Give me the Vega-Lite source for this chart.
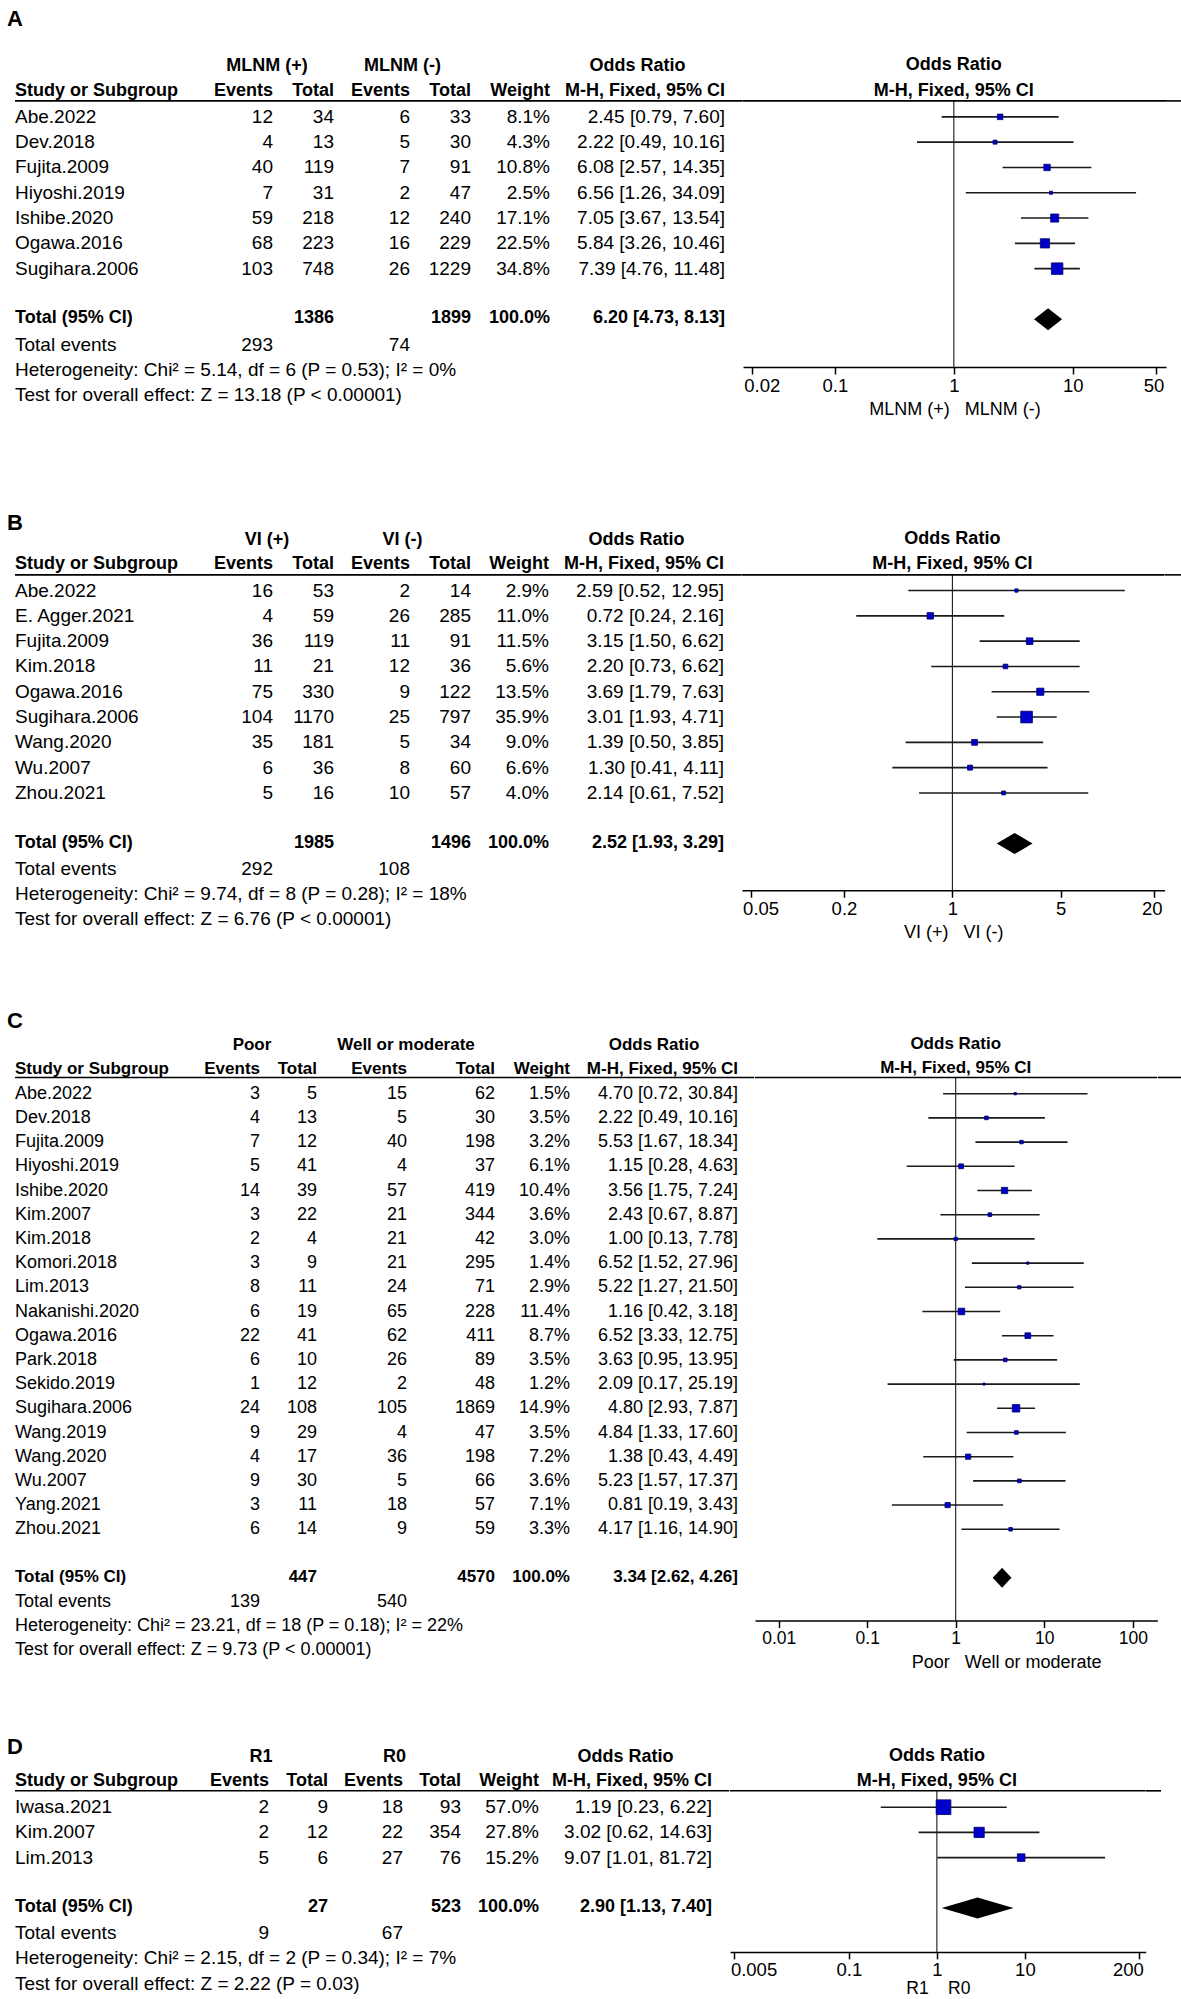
{
"$schema": "https://vega.github.io/schema/vega-lite/v6.json",
"padding": {"left": 7, "top": 3, "right": 0, "bottom": 0},
"background": "white",
"spacing": 0,
"config": {"view": {"stroke": null}, "text": {"font": "Liberation Sans", "fontSize": 19, "color": "#000"}, "axis": {"labelFont": "Liberation Sans", "titleFont": "Liberation Sans"}},
"datasets": {
"A": [
{"row":"pad0","letter":"A"},
{"row":"h1","g1":"MLNM (+)","g2":"MLNM (-)","ci":"Odds Ratio"},
{"row":"h2","label":"Study or Subgroup","e1":"Events","t1":"Total","e2":"Events","t2":"Total","wt":"Weight","ci":"M-H, Fixed, 95% CI"},
{"row":"Abe.2022","label":"Abe.2022","e1":12,"t1":34,"e2":6,"t2":33,"w":0.081,"or":2.45,"lo":0.79,"hi":7.6,"ci":"2.45 [0.79, 7.60]"},
{"row":"Dev.2018","label":"Dev.2018","e1":4,"t1":13,"e2":5,"t2":30,"w":0.043,"or":2.22,"lo":0.49,"hi":10.16,"ci":"2.22 [0.49, 10.16]"},
{"row":"Fujita.2009","label":"Fujita.2009","e1":40,"t1":119,"e2":7,"t2":91,"w":0.108,"or":6.08,"lo":2.57,"hi":14.35,"ci":"6.08 [2.57, 14.35]"},
{"row":"Hiyoshi.2019","label":"Hiyoshi.2019","e1":7,"t1":31,"e2":2,"t2":47,"w":0.025,"or":6.56,"lo":1.26,"hi":34.09,"ci":"6.56 [1.26, 34.09]"},
{"row":"Ishibe.2020","label":"Ishibe.2020","e1":59,"t1":218,"e2":12,"t2":240,"w":0.171,"or":7.05,"lo":3.67,"hi":13.54,"ci":"7.05 [3.67, 13.54]"},
{"row":"Ogawa.2016","label":"Ogawa.2016","e1":68,"t1":223,"e2":16,"t2":229,"w":0.225,"or":5.84,"lo":3.26,"hi":10.46,"ci":"5.84 [3.26, 10.46]"},
{"row":"Sugihara.2006","label":"Sugihara.2006","e1":103,"t1":748,"e2":26,"t2":1229,"w":0.348,"or":7.39,"lo":4.76,"hi":11.48,"ci":"7.39 [4.76, 11.48]"},
{"row":"total","label":"Total (95% CI)","t1":1386,"t2":1899,"w":1,"or":6.2,"lo":4.73,"hi":8.13,"ci":"6.20 [4.73, 8.13]"},
{"row":"te","label":"Total events","e1":293,"e2":74},
{"row":"het","label":"Heterogeneity: Chi² = 5.14, df = 6 (P = 0.53); I² = 0%"},
{"row":"test","label":"Test for overall effect: Z = 13.18 (P < 0.00001)"}
],
"B": [
{"row":"pad0","letter":"B"},
{"row":"h1","g1":"VI (+)","g2":"VI (-)","ci":"Odds Ratio"},
{"row":"h2","label":"Study or Subgroup","e1":"Events","t1":"Total","e2":"Events","t2":"Total","wt":"Weight","ci":"M-H, Fixed, 95% CI"},
{"row":"Abe.2022","label":"Abe.2022","e1":16,"t1":53,"e2":2,"t2":14,"w":0.029,"or":2.59,"lo":0.52,"hi":12.95,"ci":"2.59 [0.52, 12.95]"},
{"row":"E. Agger.2021","label":"E. Agger.2021","e1":4,"t1":59,"e2":26,"t2":285,"w":0.11,"or":0.72,"lo":0.24,"hi":2.16,"ci":"0.72 [0.24, 2.16]"},
{"row":"Fujita.2009","label":"Fujita.2009","e1":36,"t1":119,"e2":11,"t2":91,"w":0.115,"or":3.15,"lo":1.5,"hi":6.62,"ci":"3.15 [1.50, 6.62]"},
{"row":"Kim.2018","label":"Kim.2018","e1":11,"t1":21,"e2":12,"t2":36,"w":0.056,"or":2.2,"lo":0.73,"hi":6.62,"ci":"2.20 [0.73, 6.62]"},
{"row":"Ogawa.2016","label":"Ogawa.2016","e1":75,"t1":330,"e2":9,"t2":122,"w":0.135,"or":3.69,"lo":1.79,"hi":7.63,"ci":"3.69 [1.79, 7.63]"},
{"row":"Sugihara.2006","label":"Sugihara.2006","e1":104,"t1":1170,"e2":25,"t2":797,"w":0.359,"or":3.01,"lo":1.93,"hi":4.71,"ci":"3.01 [1.93, 4.71]"},
{"row":"Wang.2020","label":"Wang.2020","e1":35,"t1":181,"e2":5,"t2":34,"w":0.09,"or":1.39,"lo":0.5,"hi":3.85,"ci":"1.39 [0.50, 3.85]"},
{"row":"Wu.2007","label":"Wu.2007","e1":6,"t1":36,"e2":8,"t2":60,"w":0.066,"or":1.3,"lo":0.41,"hi":4.11,"ci":"1.30 [0.41, 4.11]"},
{"row":"Zhou.2021","label":"Zhou.2021","e1":5,"t1":16,"e2":10,"t2":57,"w":0.04,"or":2.14,"lo":0.61,"hi":7.52,"ci":"2.14 [0.61, 7.52]"},
{"row":"total","label":"Total (95% CI)","t1":1985,"t2":1496,"w":1,"or":2.52,"lo":1.93,"hi":3.29,"ci":"2.52 [1.93, 3.29]"},
{"row":"te","label":"Total events","e1":292,"e2":108},
{"row":"het","label":"Heterogeneity: Chi² = 9.74, df = 8 (P = 0.28); I² = 18%"},
{"row":"test","label":"Test for overall effect: Z = 6.76 (P < 0.00001)"}
],
"C": [
{"row":"pad0","letter":"C"},
{"row":"h1","g1":"Poor","g2":"Well or moderate","ci":"Odds Ratio"},
{"row":"h2","label":"Study or Subgroup","e1":"Events","t1":"Total","e2":"Events","t2":"Total","wt":"Weight","ci":"M-H, Fixed, 95% CI"},
{"row":"Abe.2022","label":"Abe.2022","e1":3,"t1":5,"e2":15,"t2":62,"w":0.015,"or":4.7,"lo":0.72,"hi":30.84,"ci":"4.70 [0.72, 30.84]"},
{"row":"Dev.2018","label":"Dev.2018","e1":4,"t1":13,"e2":5,"t2":30,"w":0.035,"or":2.22,"lo":0.49,"hi":10.16,"ci":"2.22 [0.49, 10.16]"},
{"row":"Fujita.2009","label":"Fujita.2009","e1":7,"t1":12,"e2":40,"t2":198,"w":0.032,"or":5.53,"lo":1.67,"hi":18.34,"ci":"5.53 [1.67, 18.34]"},
{"row":"Hiyoshi.2019","label":"Hiyoshi.2019","e1":5,"t1":41,"e2":4,"t2":37,"w":0.061,"or":1.15,"lo":0.28,"hi":4.63,"ci":"1.15 [0.28, 4.63]"},
{"row":"Ishibe.2020","label":"Ishibe.2020","e1":14,"t1":39,"e2":57,"t2":419,"w":0.104,"or":3.56,"lo":1.75,"hi":7.24,"ci":"3.56 [1.75, 7.24]"},
{"row":"Kim.2007","label":"Kim.2007","e1":3,"t1":22,"e2":21,"t2":344,"w":0.036,"or":2.43,"lo":0.67,"hi":8.87,"ci":"2.43 [0.67, 8.87]"},
{"row":"Kim.2018","label":"Kim.2018","e1":2,"t1":4,"e2":21,"t2":42,"w":0.03,"or":1.0,"lo":0.13,"hi":7.78,"ci":"1.00 [0.13, 7.78]"},
{"row":"Komori.2018","label":"Komori.2018","e1":3,"t1":9,"e2":21,"t2":295,"w":0.014,"or":6.52,"lo":1.52,"hi":27.96,"ci":"6.52 [1.52, 27.96]"},
{"row":"Lim.2013","label":"Lim.2013","e1":8,"t1":11,"e2":24,"t2":71,"w":0.029,"or":5.22,"lo":1.27,"hi":21.5,"ci":"5.22 [1.27, 21.50]"},
{"row":"Nakanishi.2020","label":"Nakanishi.2020","e1":6,"t1":19,"e2":65,"t2":228,"w":0.114,"or":1.16,"lo":0.42,"hi":3.18,"ci":"1.16 [0.42, 3.18]"},
{"row":"Ogawa.2016","label":"Ogawa.2016","e1":22,"t1":41,"e2":62,"t2":411,"w":0.087,"or":6.52,"lo":3.33,"hi":12.75,"ci":"6.52 [3.33, 12.75]"},
{"row":"Park.2018","label":"Park.2018","e1":6,"t1":10,"e2":26,"t2":89,"w":0.035,"or":3.63,"lo":0.95,"hi":13.95,"ci":"3.63 [0.95, 13.95]"},
{"row":"Sekido.2019","label":"Sekido.2019","e1":1,"t1":12,"e2":2,"t2":48,"w":0.012,"or":2.09,"lo":0.17,"hi":25.19,"ci":"2.09 [0.17, 25.19]"},
{"row":"Sugihara.2006","label":"Sugihara.2006","e1":24,"t1":108,"e2":105,"t2":1869,"w":0.149,"or":4.8,"lo":2.93,"hi":7.87,"ci":"4.80 [2.93, 7.87]"},
{"row":"Wang.2019","label":"Wang.2019","e1":9,"t1":29,"e2":4,"t2":47,"w":0.035,"or":4.84,"lo":1.33,"hi":17.6,"ci":"4.84 [1.33, 17.60]"},
{"row":"Wang.2020","label":"Wang.2020","e1":4,"t1":17,"e2":36,"t2":198,"w":0.072,"or":1.38,"lo":0.43,"hi":4.49,"ci":"1.38 [0.43, 4.49]"},
{"row":"Wu.2007","label":"Wu.2007","e1":9,"t1":30,"e2":5,"t2":66,"w":0.036,"or":5.23,"lo":1.57,"hi":17.37,"ci":"5.23 [1.57, 17.37]"},
{"row":"Yang.2021","label":"Yang.2021","e1":3,"t1":11,"e2":18,"t2":57,"w":0.071,"or":0.81,"lo":0.19,"hi":3.43,"ci":"0.81 [0.19, 3.43]"},
{"row":"Zhou.2021","label":"Zhou.2021","e1":6,"t1":14,"e2":9,"t2":59,"w":0.033,"or":4.17,"lo":1.16,"hi":14.9,"ci":"4.17 [1.16, 14.90]"},
{"row":"total","label":"Total (95% CI)","t1":447,"t2":4570,"w":1,"or":3.34,"lo":2.62,"hi":4.26,"ci":"3.34 [2.62, 4.26]"},
{"row":"te","label":"Total events","e1":139,"e2":540},
{"row":"het","label":"Heterogeneity: Chi² = 23.21, df = 18 (P = 0.18); I² = 22%"},
{"row":"test","label":"Test for overall effect: Z = 9.73 (P < 0.00001)"}
],
"D": [
{"row":"pad0","letter":"D"},
{"row":"h1","g1":"R1","g2":"R0","ci":"Odds Ratio"},
{"row":"h2","label":"Study or Subgroup","e1":"Events","t1":"Total","e2":"Events","t2":"Total","wt":"Weight","ci":"M-H, Fixed, 95% CI"},
{"row":"Iwasa.2021","label":"Iwasa.2021","e1":2,"t1":9,"e2":18,"t2":93,"w":0.57,"or":1.19,"lo":0.23,"hi":6.22,"ci":"1.19 [0.23, 6.22]"},
{"row":"Kim.2007","label":"Kim.2007","e1":2,"t1":12,"e2":22,"t2":354,"w":0.278,"or":3.02,"lo":0.62,"hi":14.63,"ci":"3.02 [0.62, 14.63]"},
{"row":"Lim.2013","label":"Lim.2013","e1":5,"t1":6,"e2":27,"t2":76,"w":0.152,"or":9.07,"lo":1.01,"hi":81.72,"ci":"9.07 [1.01, 81.72]"},
{"row":"total","label":"Total (95% CI)","t1":27,"t2":523,"w":1,"or":2.9,"lo":1.13,"hi":7.4,"ci":"2.90 [1.13, 7.40]"},
{"row":"te","label":"Total events","e1":9,"e2":67},
{"row":"het","label":"Heterogeneity: Chi² = 2.15, df = 2 (P = 0.34); I² = 7%"},
{"row":"test","label":"Test for overall effect: Z = 2.22 (P = 0.03)"}
]
},
"vconcat": [
{"hconcat": [
{"width":185,"height":498.05,"data":{"name":"A"},"layer":[
 {"transform":[{"filter":"datum.row == 'h2'"}],"mark":{"type":"rule","color":"#000","strokeWidth":1.6},"encoding":{"y":{"field":"row","type":"nominal","bandPosition":0.87,"scale":{"type":"band","domain":["pad0","pad1","h1","h2","Abe.2022","Dev.2018","Fujita.2009","Hiyoshi.2019","Ishibe.2020","Ogawa.2016","Sugihara.2006","blank","total","te","het","test","x1","x2"],"paddingInner":0,"paddingOuter":0.843,"align":0},"axis":null}}},
 {"transform":[{"filter":"isValid(datum.label) && datum.row != 'h2' && datum.row != 'total'"}],"mark":{"type":"text","align":"left"},"encoding":{"x":{"datum":"label","type":"nominal","bandPosition":0,"scale":{"type":"band","paddingInner":0,"paddingOuter":0},"axis":null},"y":{"field":"row","type":"nominal","scale":{"type":"band","domain":["pad0","pad1","h1","h2","Abe.2022","Dev.2018","Fujita.2009","Hiyoshi.2019","Ishibe.2020","Ogawa.2016","Sugihara.2006","blank","total","te","het","test","x1","x2"],"paddingInner":0,"paddingOuter":0.843,"align":0},"axis":null},"text":{"field":"label","type":"nominal"}}},
 {"transform":[{"filter":"datum.row == 'h2' || datum.row == 'total'"}],"mark":{"type":"text","align":"left","fontWeight":"bold","fontSize":18,"dy":-1},"encoding":{"x":{"datum":"label","type":"nominal","bandPosition":0,"scale":{"type":"band","paddingInner":0,"paddingOuter":0},"axis":null},"y":{"field":"row","type":"nominal","scale":{"type":"band","domain":["pad0","pad1","h1","h2","Abe.2022","Dev.2018","Fujita.2009","Hiyoshi.2019","Ishibe.2020","Ogawa.2016","Sugihara.2006","blank","total","te","het","test","x1","x2"],"paddingInner":0,"paddingOuter":0.843,"align":0},"axis":null},"text":{"field":"label","type":"nominal"}}},
 {"transform":[{"filter":"isValid(datum.letter)"}],"mark":{"type":"text","align":"left","fontWeight":"bold","fontSize":22,"dx":-8,"dy":3},"encoding":{"x":{"datum":"label","type":"nominal","bandPosition":0,"scale":{"type":"band","paddingInner":0,"paddingOuter":0},"axis":null},"y":{"field":"row","type":"nominal","scale":{"type":"band","domain":["pad0","pad1","h1","h2","Abe.2022","Dev.2018","Fujita.2009","Hiyoshi.2019","Ishibe.2020","Ogawa.2016","Sugihara.2006","blank","total","te","het","test","x1","x2"],"paddingInner":0,"paddingOuter":0.843,"align":0},"axis":null},"text":{"field":"letter","type":"nominal"}}}
]},
{"width":134,"height":498.05,"data":{"name":"A"},"layer":[
 {"transform":[{"filter":"datum.row == 'h2'"}],"mark":{"type":"rule","color":"#000","strokeWidth":1.6},"encoding":{"y":{"field":"row","type":"nominal","bandPosition":0.87,"scale":{"type":"band","domain":["pad0","pad1","h1","h2","Abe.2022","Dev.2018","Fujita.2009","Hiyoshi.2019","Ishibe.2020","Ogawa.2016","Sugihara.2006","blank","total","te","het","test","x1","x2"],"paddingInner":0,"paddingOuter":0.843,"align":0},"axis":null}}},
 {"transform":[{"fold":["e1","t1"],"as":["key","value"]},{"filter":"isValid(datum.value) && datum.row != 'h2' && datum.row != 'total'"}],"mark":{"type":"text","align":"right"},"encoding":{"x":{"field":"key","type":"nominal","bandPosition":1,"scale":{"type":"band","domain":["e1","t1"],"paddingInner":0,"paddingOuter":0.0984,"align":1},"axis":null},"y":{"field":"row","type":"nominal","scale":{"type":"band","domain":["pad0","pad1","h1","h2","Abe.2022","Dev.2018","Fujita.2009","Hiyoshi.2019","Ishibe.2020","Ogawa.2016","Sugihara.2006","blank","total","te","het","test","x1","x2"],"paddingInner":0,"paddingOuter":0.843,"align":0},"axis":null},"text":{"field":"value","type":"nominal"}}},
 {"transform":[{"fold":["e1","t1"],"as":["key","value"]},{"filter":"isValid(datum.value) && (datum.row == 'h2' || datum.row == 'total')"}],"mark":{"type":"text","align":"right","fontWeight":"bold","fontSize":18,"dy":-1},"encoding":{"x":{"field":"key","type":"nominal","bandPosition":1,"scale":{"type":"band","domain":["e1","t1"],"paddingInner":0,"paddingOuter":0.0984,"align":1},"axis":null},"y":{"field":"row","type":"nominal","scale":{"type":"band","domain":["pad0","pad1","h1","h2","Abe.2022","Dev.2018","Fujita.2009","Hiyoshi.2019","Ishibe.2020","Ogawa.2016","Sugihara.2006","blank","total","te","het","test","x1","x2"],"paddingInner":0,"paddingOuter":0.843,"align":0},"axis":null},"text":{"field":"value","type":"nominal"}}},
 {"transform":[{"filter":"isValid(datum.g1)"}],"mark":{"type":"text","fontWeight":"bold","fontSize":18},"encoding":{"y":{"field":"row","type":"nominal","scale":{"type":"band","domain":["pad0","pad1","h1","h2","Abe.2022","Dev.2018","Fujita.2009","Hiyoshi.2019","Ishibe.2020","Ogawa.2016","Sugihara.2006","blank","total","te","het","test","x1","x2"],"paddingInner":0,"paddingOuter":0.843,"align":0},"axis":null},"text":{"field":"g1","type":"nominal"}}}
]},
{"width":137,"height":498.05,"data":{"name":"A"},"layer":[
 {"transform":[{"filter":"datum.row == 'h2'"}],"mark":{"type":"rule","color":"#000","strokeWidth":1.6},"encoding":{"y":{"field":"row","type":"nominal","bandPosition":0.87,"scale":{"type":"band","domain":["pad0","pad1","h1","h2","Abe.2022","Dev.2018","Fujita.2009","Hiyoshi.2019","Ishibe.2020","Ogawa.2016","Sugihara.2006","blank","total","te","het","test","x1","x2"],"paddingInner":0,"paddingOuter":0.843,"align":0},"axis":null}}},
 {"transform":[{"fold":["e2","t2"],"as":["key","value"]},{"filter":"isValid(datum.value) && datum.row != 'h2' && datum.row != 'total'"}],"mark":{"type":"text","align":"right"},"encoding":{"x":{"field":"key","type":"nominal","bandPosition":1,"scale":{"type":"band","domain":["e2","t2"],"paddingInner":0,"paddingOuter":0.123,"align":1},"axis":null},"y":{"field":"row","type":"nominal","scale":{"type":"band","domain":["pad0","pad1","h1","h2","Abe.2022","Dev.2018","Fujita.2009","Hiyoshi.2019","Ishibe.2020","Ogawa.2016","Sugihara.2006","blank","total","te","het","test","x1","x2"],"paddingInner":0,"paddingOuter":0.843,"align":0},"axis":null},"text":{"field":"value","type":"nominal"}}},
 {"transform":[{"fold":["e2","t2"],"as":["key","value"]},{"filter":"isValid(datum.value) && (datum.row == 'h2' || datum.row == 'total')"}],"mark":{"type":"text","align":"right","fontWeight":"bold","fontSize":18,"dy":-1},"encoding":{"x":{"field":"key","type":"nominal","bandPosition":1,"scale":{"type":"band","domain":["e2","t2"],"paddingInner":0,"paddingOuter":0.123,"align":1},"axis":null},"y":{"field":"row","type":"nominal","scale":{"type":"band","domain":["pad0","pad1","h1","h2","Abe.2022","Dev.2018","Fujita.2009","Hiyoshi.2019","Ishibe.2020","Ogawa.2016","Sugihara.2006","blank","total","te","het","test","x1","x2"],"paddingInner":0,"paddingOuter":0.843,"align":0},"axis":null},"text":{"field":"value","type":"nominal"}}},
 {"transform":[{"filter":"isValid(datum.g2)"}],"mark":{"type":"text","fontWeight":"bold","fontSize":18},"encoding":{"y":{"field":"row","type":"nominal","scale":{"type":"band","domain":["pad0","pad1","h1","h2","Abe.2022","Dev.2018","Fujita.2009","Hiyoshi.2019","Ishibe.2020","Ogawa.2016","Sugihara.2006","blank","total","te","het","test","x1","x2"],"paddingInner":0,"paddingOuter":0.843,"align":0},"axis":null},"text":{"field":"g2","type":"nominal"}}}
]},
{"width":79,"height":498.05,"data":{"name":"A"},"layer":[
 {"transform":[{"filter":"datum.row == 'h2'"}],"mark":{"type":"rule","color":"#000","strokeWidth":1.6},"encoding":{"y":{"field":"row","type":"nominal","bandPosition":0.87,"scale":{"type":"band","domain":["pad0","pad1","h1","h2","Abe.2022","Dev.2018","Fujita.2009","Hiyoshi.2019","Ishibe.2020","Ogawa.2016","Sugihara.2006","blank","total","te","het","test","x1","x2"],"paddingInner":0,"paddingOuter":0.843,"align":0},"axis":null}}},
 {"transform":[{"filter":"isValid(datum.w) && datum.row != 'total'"}],"mark":{"type":"text","align":"right"},"encoding":{"x":{"datum":"w","type":"nominal","bandPosition":1,"scale":{"type":"band","paddingInner":0,"paddingOuter":0},"axis":null},"y":{"field":"row","type":"nominal","scale":{"type":"band","domain":["pad0","pad1","h1","h2","Abe.2022","Dev.2018","Fujita.2009","Hiyoshi.2019","Ishibe.2020","Ogawa.2016","Sugihara.2006","blank","total","te","het","test","x1","x2"],"paddingInner":0,"paddingOuter":0.843,"align":0},"axis":null},"text":{"field":"w","type":"quantitative","format":".1%"}}},
 {"transform":[{"filter":"datum.row == 'total'"}],"mark":{"type":"text","align":"right","fontWeight":"bold","fontSize":18,"dy":-1},"encoding":{"x":{"datum":"w","type":"nominal","bandPosition":1,"scale":{"type":"band","paddingInner":0,"paddingOuter":0},"axis":null},"y":{"field":"row","type":"nominal","scale":{"type":"band","domain":["pad0","pad1","h1","h2","Abe.2022","Dev.2018","Fujita.2009","Hiyoshi.2019","Ishibe.2020","Ogawa.2016","Sugihara.2006","blank","total","te","het","test","x1","x2"],"paddingInner":0,"paddingOuter":0.843,"align":0},"axis":null},"text":{"field":"w","type":"quantitative","format":".1%"}}},
 {"transform":[{"filter":"isValid(datum.wt)"}],"mark":{"type":"text","align":"right","fontWeight":"bold","fontSize":18,"dy":-1},"encoding":{"x":{"datum":"w","type":"nominal","bandPosition":1,"scale":{"type":"band","paddingInner":0,"paddingOuter":0},"axis":null},"y":{"field":"row","type":"nominal","scale":{"type":"band","domain":["pad0","pad1","h1","h2","Abe.2022","Dev.2018","Fujita.2009","Hiyoshi.2019","Ishibe.2020","Ogawa.2016","Sugihara.2006","blank","total","te","het","test","x1","x2"],"paddingInner":0,"paddingOuter":0.843,"align":0},"axis":null},"text":{"field":"wt","type":"nominal"}}}
]},
{"width":192.7,"height":498.05,"data":{"name":"A"},"layer":[
 {"transform":[{"filter":"datum.row == 'h2'"}],"mark":{"type":"rule","color":"#000","strokeWidth":1.6},"encoding":{"y":{"field":"row","type":"nominal","bandPosition":0.87,"scale":{"type":"band","domain":["pad0","pad1","h1","h2","Abe.2022","Dev.2018","Fujita.2009","Hiyoshi.2019","Ishibe.2020","Ogawa.2016","Sugihara.2006","blank","total","te","het","test","x1","x2"],"paddingInner":0,"paddingOuter":0.843,"align":0},"axis":null}}},
 {"transform":[{"filter":"isValid(datum.ci) && datum.row != 'h1' && datum.row != 'h2' && datum.row != 'total'"}],"mark":{"type":"text","align":"right"},"encoding":{"x":{"datum":"ci","type":"nominal","bandPosition":1,"scale":{"type":"band","paddingInner":0,"paddingOuter":0.0506,"align":0},"axis":null},"y":{"field":"row","type":"nominal","scale":{"type":"band","domain":["pad0","pad1","h1","h2","Abe.2022","Dev.2018","Fujita.2009","Hiyoshi.2019","Ishibe.2020","Ogawa.2016","Sugihara.2006","blank","total","te","het","test","x1","x2"],"paddingInner":0,"paddingOuter":0.843,"align":0},"axis":null},"text":{"field":"ci","type":"nominal"}}},
 {"transform":[{"filter":"datum.row == 'h2' || datum.row == 'total'"}],"mark":{"type":"text","align":"right","fontWeight":"bold","fontSize":18,"dy":-1},"encoding":{"x":{"datum":"ci","type":"nominal","bandPosition":1,"scale":{"type":"band","paddingInner":0,"paddingOuter":0.0506,"align":0},"axis":null},"y":{"field":"row","type":"nominal","scale":{"type":"band","domain":["pad0","pad1","h1","h2","Abe.2022","Dev.2018","Fujita.2009","Hiyoshi.2019","Ishibe.2020","Ogawa.2016","Sugihara.2006","blank","total","te","het","test","x1","x2"],"paddingInner":0,"paddingOuter":0.843,"align":0},"axis":null},"text":{"field":"ci","type":"nominal"}}},
 {"transform":[{"filter":"datum.row == 'h1'"}],"mark":{"type":"text","fontWeight":"bold","fontSize":18},"encoding":{"x":{"datum":"ci","type":"nominal","bandPosition":0.5,"scale":{"type":"band","paddingInner":0,"paddingOuter":0.0506,"align":0},"axis":null},"y":{"field":"row","type":"nominal","scale":{"type":"band","domain":["pad0","pad1","h1","h2","Abe.2022","Dev.2018","Fujita.2009","Hiyoshi.2019","Ishibe.2020","Ogawa.2016","Sugihara.2006","blank","total","te","het","test","x1","x2"],"paddingInner":0,"paddingOuter":0.843,"align":0},"axis":null},"text":{"field":"ci","type":"nominal"}}}
]},
{"width":423,"height":364,"data":{"name":"A"},"layer":[
 {"transform":[{"filter":"datum.row == 'h2'"}],"mark":{"type":"rule","color":"#000","strokeWidth":1.6},"encoding":{"y":{"field":"row","type":"nominal","bandPosition":0.87,"scale":{"type":"band","domain":["pad0","pad1","h1","h2","Abe.2022","Dev.2018","Fujita.2009","Hiyoshi.2019","Ishibe.2020","Ogawa.2016","Sugihara.2006","blank","total"],"paddingInner":0,"paddingOuter":0.6937,"align":0},"axis":null}}},
 {"transform":[{"filter":"datum.row == 'h2'"}],"mark":{"type":"rule","color":"#000","strokeWidth":1},"encoding":{"x":{"datum":1,"type":"quantitative","scale":{"type":"log","domain":[0.016855,60.85],"nice":false},"axis":{"values":[0.02,0.1,1,10,50],"format":"~g","labelFlush":15,"labelFlushOffset":8,"title":"MLNM (+)\u00a0\u00a0\u00a0MLNM (-)","tickSize":7,"tickWidth":1.5,"tickColor":"#000","domainColor":"#000","domainWidth":1.5,"labelColor":"#000","labelFontSize":18.5,"labelPadding":2,"titleColor":"#000","titleFontSize":18,"titleFontWeight":"normal","titlePadding":6,"grid":false,"encode":{"ticks":{"y":{"value":-7}}}}},"y":{"field":"row","type":"nominal","bandPosition":0.87,"scale":{"type":"band","domain":["pad0","pad1","h1","h2","Abe.2022","Dev.2018","Fujita.2009","Hiyoshi.2019","Ishibe.2020","Ogawa.2016","Sugihara.2006","blank","total"],"paddingInner":0,"paddingOuter":0.6937,"align":0},"axis":null},"y2":{"value":"height"}}},
 {"transform":[{"filter":"isValid(datum.lo) && datum.row != 'total'"}],"mark":{"type":"rule","color":"#1a1a1a","strokeWidth":1.6},"encoding":{"x":{"field":"lo","type":"quantitative","scale":{"type":"log","domain":[0.016855,60.85],"nice":false},"axis":{"values":[0.02,0.1,1,10,50],"format":"~g","labelFlush":15,"labelFlushOffset":8,"title":"MLNM (+)\u00a0\u00a0\u00a0MLNM (-)","tickSize":7,"tickWidth":1.5,"tickColor":"#000","domainColor":"#000","domainWidth":1.5,"labelColor":"#000","labelFontSize":18.5,"labelPadding":2,"titleColor":"#000","titleFontSize":18,"titleFontWeight":"normal","titlePadding":6,"grid":false,"encode":{"ticks":{"y":{"value":-7}}}}},"x2":{"field":"hi"},"y":{"field":"row","type":"nominal","scale":{"type":"band","domain":["pad0","pad1","h1","h2","Abe.2022","Dev.2018","Fujita.2009","Hiyoshi.2019","Ishibe.2020","Ogawa.2016","Sugihara.2006","blank","total"],"paddingInner":0,"paddingOuter":0.6937,"align":0},"axis":null}}},
 {"transform":[{"filter":"isValid(datum.lo) && datum.row != 'total'"}],"mark":{"type":"point","shape":"square","filled":true,"fill":"#0000cc","stroke":"#000066","strokeWidth":0.8,"opacity":1},"encoding":{"x":{"field":"or","type":"quantitative","scale":{"type":"log","domain":[0.016855,60.85],"nice":false},"axis":{"values":[0.02,0.1,1,10,50],"format":"~g","labelFlush":15,"labelFlushOffset":8,"title":"MLNM (+)\u00a0\u00a0\u00a0MLNM (-)","tickSize":7,"tickWidth":1.5,"tickColor":"#000","domainColor":"#000","domainWidth":1.5,"labelColor":"#000","labelFontSize":18.5,"labelPadding":2,"titleColor":"#000","titleFontSize":18,"titleFontWeight":"normal","titlePadding":6,"grid":false,"encode":{"ticks":{"y":{"value":-7}}}}},"y":{"field":"row","type":"nominal","scale":{"type":"band","domain":["pad0","pad1","h1","h2","Abe.2022","Dev.2018","Fujita.2009","Hiyoshi.2019","Ishibe.2020","Ogawa.2016","Sugihara.2006","blank","total"],"paddingInner":0,"paddingOuter":0.6937,"align":0},"axis":null},"size":{"field":"w","type":"quantitative","scale":{"domain":[0,1],"range":[0,380]},"legend":null}}},
 {"transform":[{"filter":"datum.row == 'total'"}],"mark":{"type":"point","shape":"M-1,0L0,-0.786L1,0L0,0.786Z","filled":true,"fill":"#000","strokeWidth":0,"size":784,"opacity":1},"encoding":{"x":{"field":"or","type":"quantitative","scale":{"type":"log","domain":[0.016855,60.85],"nice":false},"axis":{"values":[0.02,0.1,1,10,50],"format":"~g","labelFlush":15,"labelFlushOffset":8,"title":"MLNM (+)\u00a0\u00a0\u00a0MLNM (-)","tickSize":7,"tickWidth":1.5,"tickColor":"#000","domainColor":"#000","domainWidth":1.5,"labelColor":"#000","labelFontSize":18.5,"labelPadding":2,"titleColor":"#000","titleFontSize":18,"titleFontWeight":"normal","titlePadding":6,"grid":false,"encode":{"ticks":{"y":{"value":-7}}}}},"y":{"field":"row","type":"nominal","scale":{"type":"band","domain":["pad0","pad1","h1","h2","Abe.2022","Dev.2018","Fujita.2009","Hiyoshi.2019","Ishibe.2020","Ogawa.2016","Sugihara.2006","blank","total"],"paddingInner":0,"paddingOuter":0.6937,"align":0},"axis":null}}},
 {"transform":[{"filter":"datum.row == 'h1' || datum.row == 'h2'"}],"mark":{"type":"text","fontWeight":"bold","fontSize":18,"dy":-1},"encoding":{"x":{"datum":1,"type":"quantitative","scale":{"type":"log","domain":[0.016855,60.85],"nice":false},"axis":{"values":[0.02,0.1,1,10,50],"format":"~g","labelFlush":15,"labelFlushOffset":8,"title":"MLNM (+)\u00a0\u00a0\u00a0MLNM (-)","tickSize":7,"tickWidth":1.5,"tickColor":"#000","domainColor":"#000","domainWidth":1.5,"labelColor":"#000","labelFontSize":18.5,"labelPadding":2,"titleColor":"#000","titleFontSize":18,"titleFontWeight":"normal","titlePadding":6,"grid":false,"encode":{"ticks":{"y":{"value":-7}}}}},"y":{"field":"row","type":"nominal","scale":{"type":"band","domain":["pad0","pad1","h1","h2","Abe.2022","Dev.2018","Fujita.2009","Hiyoshi.2019","Ishibe.2020","Ogawa.2016","Sugihara.2006","blank","total"],"paddingInner":0,"paddingOuter":0.6937,"align":0},"axis":null},"text":{"field":"ci","type":"nominal"}}}
]},
{"width":15.3,"height":364,"data":{"name":"A"},"transform":[{"filter":"datum.row == 'h2'"}],"mark":{"type":"rule","color":"#000","strokeWidth":1.6},"encoding":{"y":{"field":"row","type":"nominal","bandPosition":0.87,"scale":{"type":"band","domain":["pad0","pad1","h1","h2","Abe.2022","Dev.2018","Fujita.2009","Hiyoshi.2019","Ishibe.2020","Ogawa.2016","Sugihara.2006","blank","total"],"paddingInner":0,"paddingOuter":0.6937,"align":0},"axis":null}}}
], "spacing": 0, "bounds": "flush"},

{"hconcat": [
{"width":185,"height":506.75,"data":{"name":"B"},"layer":[
 {"transform":[{"filter":"datum.row == 'h2'"}],"mark":{"type":"rule","color":"#000","strokeWidth":1.6},"encoding":{"y":{"field":"row","type":"nominal","bandPosition":0.88,"scale":{"type":"band","domain":["pad0","h1","h2","Abe.2022","E. Agger.2021","Fujita.2009","Kim.2018","Ogawa.2016","Sugihara.2006","Wang.2020","Wu.2007","Zhou.2021","blank","total","te","het","test","x1","x2"],"paddingInner":0,"paddingOuter":0.5148,"align":0},"axis":null}}},
 {"transform":[{"filter":"isValid(datum.label) && datum.row != 'h2' && datum.row != 'total'"}],"mark":{"type":"text","align":"left"},"encoding":{"x":{"datum":"label","type":"nominal","bandPosition":0,"scale":{"type":"band","paddingInner":0,"paddingOuter":0},"axis":null},"y":{"field":"row","type":"nominal","scale":{"type":"band","domain":["pad0","h1","h2","Abe.2022","E. Agger.2021","Fujita.2009","Kim.2018","Ogawa.2016","Sugihara.2006","Wang.2020","Wu.2007","Zhou.2021","blank","total","te","het","test","x1","x2"],"paddingInner":0,"paddingOuter":0.5148,"align":0},"axis":null},"text":{"field":"label","type":"nominal"}}},
 {"transform":[{"filter":"datum.row == 'h2' || datum.row == 'total'"}],"mark":{"type":"text","align":"left","fontWeight":"bold","fontSize":18,"dy":-1},"encoding":{"x":{"datum":"label","type":"nominal","bandPosition":0,"scale":{"type":"band","paddingInner":0,"paddingOuter":0},"axis":null},"y":{"field":"row","type":"nominal","scale":{"type":"band","domain":["pad0","h1","h2","Abe.2022","E. Agger.2021","Fujita.2009","Kim.2018","Ogawa.2016","Sugihara.2006","Wang.2020","Wu.2007","Zhou.2021","blank","total","te","het","test","x1","x2"],"paddingInner":0,"paddingOuter":0.5148,"align":0},"axis":null},"text":{"field":"label","type":"nominal"}}},
 {"transform":[{"filter":"isValid(datum.letter)"}],"mark":{"type":"text","align":"left","fontWeight":"bold","fontSize":22,"dx":-8,"dy":8},"encoding":{"x":{"datum":"label","type":"nominal","bandPosition":0,"scale":{"type":"band","paddingInner":0,"paddingOuter":0},"axis":null},"y":{"field":"row","type":"nominal","scale":{"type":"band","domain":["pad0","h1","h2","Abe.2022","E. Agger.2021","Fujita.2009","Kim.2018","Ogawa.2016","Sugihara.2006","Wang.2020","Wu.2007","Zhou.2021","blank","total","te","het","test","x1","x2"],"paddingInner":0,"paddingOuter":0.5148,"align":0},"axis":null},"text":{"field":"letter","type":"nominal"}}}
]},
{"width":134,"height":506.75,"data":{"name":"B"},"layer":[
 {"transform":[{"filter":"datum.row == 'h2'"}],"mark":{"type":"rule","color":"#000","strokeWidth":1.6},"encoding":{"y":{"field":"row","type":"nominal","bandPosition":0.88,"scale":{"type":"band","domain":["pad0","h1","h2","Abe.2022","E. Agger.2021","Fujita.2009","Kim.2018","Ogawa.2016","Sugihara.2006","Wang.2020","Wu.2007","Zhou.2021","blank","total","te","het","test","x1","x2"],"paddingInner":0,"paddingOuter":0.5148,"align":0},"axis":null}}},
 {"transform":[{"fold":["e1","t1"],"as":["key","value"]},{"filter":"isValid(datum.value) && datum.row != 'h2' && datum.row != 'total'"}],"mark":{"type":"text","align":"right"},"encoding":{"x":{"field":"key","type":"nominal","bandPosition":1,"scale":{"type":"band","domain":["e1","t1"],"paddingInner":0,"paddingOuter":0.0984,"align":1},"axis":null},"y":{"field":"row","type":"nominal","scale":{"type":"band","domain":["pad0","h1","h2","Abe.2022","E. Agger.2021","Fujita.2009","Kim.2018","Ogawa.2016","Sugihara.2006","Wang.2020","Wu.2007","Zhou.2021","blank","total","te","het","test","x1","x2"],"paddingInner":0,"paddingOuter":0.5148,"align":0},"axis":null},"text":{"field":"value","type":"nominal"}}},
 {"transform":[{"fold":["e1","t1"],"as":["key","value"]},{"filter":"isValid(datum.value) && (datum.row == 'h2' || datum.row == 'total')"}],"mark":{"type":"text","align":"right","fontWeight":"bold","fontSize":18,"dy":-1},"encoding":{"x":{"field":"key","type":"nominal","bandPosition":1,"scale":{"type":"band","domain":["e1","t1"],"paddingInner":0,"paddingOuter":0.0984,"align":1},"axis":null},"y":{"field":"row","type":"nominal","scale":{"type":"band","domain":["pad0","h1","h2","Abe.2022","E. Agger.2021","Fujita.2009","Kim.2018","Ogawa.2016","Sugihara.2006","Wang.2020","Wu.2007","Zhou.2021","blank","total","te","het","test","x1","x2"],"paddingInner":0,"paddingOuter":0.5148,"align":0},"axis":null},"text":{"field":"value","type":"nominal"}}},
 {"transform":[{"filter":"isValid(datum.g1)"}],"mark":{"type":"text","fontWeight":"bold","fontSize":18},"encoding":{"y":{"field":"row","type":"nominal","scale":{"type":"band","domain":["pad0","h1","h2","Abe.2022","E. Agger.2021","Fujita.2009","Kim.2018","Ogawa.2016","Sugihara.2006","Wang.2020","Wu.2007","Zhou.2021","blank","total","te","het","test","x1","x2"],"paddingInner":0,"paddingOuter":0.5148,"align":0},"axis":null},"text":{"field":"g1","type":"nominal"}}}
]},
{"width":137,"height":506.75,"data":{"name":"B"},"layer":[
 {"transform":[{"filter":"datum.row == 'h2'"}],"mark":{"type":"rule","color":"#000","strokeWidth":1.6},"encoding":{"y":{"field":"row","type":"nominal","bandPosition":0.88,"scale":{"type":"band","domain":["pad0","h1","h2","Abe.2022","E. Agger.2021","Fujita.2009","Kim.2018","Ogawa.2016","Sugihara.2006","Wang.2020","Wu.2007","Zhou.2021","blank","total","te","het","test","x1","x2"],"paddingInner":0,"paddingOuter":0.5148,"align":0},"axis":null}}},
 {"transform":[{"fold":["e2","t2"],"as":["key","value"]},{"filter":"isValid(datum.value) && datum.row != 'h2' && datum.row != 'total'"}],"mark":{"type":"text","align":"right"},"encoding":{"x":{"field":"key","type":"nominal","bandPosition":1,"scale":{"type":"band","domain":["e2","t2"],"paddingInner":0,"paddingOuter":0.123,"align":1},"axis":null},"y":{"field":"row","type":"nominal","scale":{"type":"band","domain":["pad0","h1","h2","Abe.2022","E. Agger.2021","Fujita.2009","Kim.2018","Ogawa.2016","Sugihara.2006","Wang.2020","Wu.2007","Zhou.2021","blank","total","te","het","test","x1","x2"],"paddingInner":0,"paddingOuter":0.5148,"align":0},"axis":null},"text":{"field":"value","type":"nominal"}}},
 {"transform":[{"fold":["e2","t2"],"as":["key","value"]},{"filter":"isValid(datum.value) && (datum.row == 'h2' || datum.row == 'total')"}],"mark":{"type":"text","align":"right","fontWeight":"bold","fontSize":18,"dy":-1},"encoding":{"x":{"field":"key","type":"nominal","bandPosition":1,"scale":{"type":"band","domain":["e2","t2"],"paddingInner":0,"paddingOuter":0.123,"align":1},"axis":null},"y":{"field":"row","type":"nominal","scale":{"type":"band","domain":["pad0","h1","h2","Abe.2022","E. Agger.2021","Fujita.2009","Kim.2018","Ogawa.2016","Sugihara.2006","Wang.2020","Wu.2007","Zhou.2021","blank","total","te","het","test","x1","x2"],"paddingInner":0,"paddingOuter":0.5148,"align":0},"axis":null},"text":{"field":"value","type":"nominal"}}},
 {"transform":[{"filter":"isValid(datum.g2)"}],"mark":{"type":"text","fontWeight":"bold","fontSize":18},"encoding":{"y":{"field":"row","type":"nominal","scale":{"type":"band","domain":["pad0","h1","h2","Abe.2022","E. Agger.2021","Fujita.2009","Kim.2018","Ogawa.2016","Sugihara.2006","Wang.2020","Wu.2007","Zhou.2021","blank","total","te","het","test","x1","x2"],"paddingInner":0,"paddingOuter":0.5148,"align":0},"axis":null},"text":{"field":"g2","type":"nominal"}}}
]},
{"width":78,"height":506.75,"data":{"name":"B"},"layer":[
 {"transform":[{"filter":"datum.row == 'h2'"}],"mark":{"type":"rule","color":"#000","strokeWidth":1.6},"encoding":{"y":{"field":"row","type":"nominal","bandPosition":0.88,"scale":{"type":"band","domain":["pad0","h1","h2","Abe.2022","E. Agger.2021","Fujita.2009","Kim.2018","Ogawa.2016","Sugihara.2006","Wang.2020","Wu.2007","Zhou.2021","blank","total","te","het","test","x1","x2"],"paddingInner":0,"paddingOuter":0.5148,"align":0},"axis":null}}},
 {"transform":[{"filter":"isValid(datum.w) && datum.row != 'total'"}],"mark":{"type":"text","align":"right"},"encoding":{"x":{"datum":"w","type":"nominal","bandPosition":1,"scale":{"type":"band","paddingInner":0,"paddingOuter":0},"axis":null},"y":{"field":"row","type":"nominal","scale":{"type":"band","domain":["pad0","h1","h2","Abe.2022","E. Agger.2021","Fujita.2009","Kim.2018","Ogawa.2016","Sugihara.2006","Wang.2020","Wu.2007","Zhou.2021","blank","total","te","het","test","x1","x2"],"paddingInner":0,"paddingOuter":0.5148,"align":0},"axis":null},"text":{"field":"w","type":"quantitative","format":".1%"}}},
 {"transform":[{"filter":"datum.row == 'total'"}],"mark":{"type":"text","align":"right","fontWeight":"bold","fontSize":18,"dy":-1},"encoding":{"x":{"datum":"w","type":"nominal","bandPosition":1,"scale":{"type":"band","paddingInner":0,"paddingOuter":0},"axis":null},"y":{"field":"row","type":"nominal","scale":{"type":"band","domain":["pad0","h1","h2","Abe.2022","E. Agger.2021","Fujita.2009","Kim.2018","Ogawa.2016","Sugihara.2006","Wang.2020","Wu.2007","Zhou.2021","blank","total","te","het","test","x1","x2"],"paddingInner":0,"paddingOuter":0.5148,"align":0},"axis":null},"text":{"field":"w","type":"quantitative","format":".1%"}}},
 {"transform":[{"filter":"isValid(datum.wt)"}],"mark":{"type":"text","align":"right","fontWeight":"bold","fontSize":18,"dy":-1},"encoding":{"x":{"datum":"w","type":"nominal","bandPosition":1,"scale":{"type":"band","paddingInner":0,"paddingOuter":0},"axis":null},"y":{"field":"row","type":"nominal","scale":{"type":"band","domain":["pad0","h1","h2","Abe.2022","E. Agger.2021","Fujita.2009","Kim.2018","Ogawa.2016","Sugihara.2006","Wang.2020","Wu.2007","Zhou.2021","blank","total","te","het","test","x1","x2"],"paddingInner":0,"paddingOuter":0.5148,"align":0},"axis":null},"text":{"field":"wt","type":"nominal"}}}
]},
{"width":192.7,"height":506.75,"data":{"name":"B"},"layer":[
 {"transform":[{"filter":"datum.row == 'h2'"}],"mark":{"type":"rule","color":"#000","strokeWidth":1.6},"encoding":{"y":{"field":"row","type":"nominal","bandPosition":0.88,"scale":{"type":"band","domain":["pad0","h1","h2","Abe.2022","E. Agger.2021","Fujita.2009","Kim.2018","Ogawa.2016","Sugihara.2006","Wang.2020","Wu.2007","Zhou.2021","blank","total","te","het","test","x1","x2"],"paddingInner":0,"paddingOuter":0.5148,"align":0},"axis":null}}},
 {"transform":[{"filter":"isValid(datum.ci) && datum.row != 'h1' && datum.row != 'h2' && datum.row != 'total'"}],"mark":{"type":"text","align":"right"},"encoding":{"x":{"datum":"ci","type":"nominal","bandPosition":1,"scale":{"type":"band","paddingInner":0,"paddingOuter":0.0506,"align":0},"axis":null},"y":{"field":"row","type":"nominal","scale":{"type":"band","domain":["pad0","h1","h2","Abe.2022","E. Agger.2021","Fujita.2009","Kim.2018","Ogawa.2016","Sugihara.2006","Wang.2020","Wu.2007","Zhou.2021","blank","total","te","het","test","x1","x2"],"paddingInner":0,"paddingOuter":0.5148,"align":0},"axis":null},"text":{"field":"ci","type":"nominal"}}},
 {"transform":[{"filter":"datum.row == 'h2' || datum.row == 'total'"}],"mark":{"type":"text","align":"right","fontWeight":"bold","fontSize":18,"dy":-1},"encoding":{"x":{"datum":"ci","type":"nominal","bandPosition":1,"scale":{"type":"band","paddingInner":0,"paddingOuter":0.0506,"align":0},"axis":null},"y":{"field":"row","type":"nominal","scale":{"type":"band","domain":["pad0","h1","h2","Abe.2022","E. Agger.2021","Fujita.2009","Kim.2018","Ogawa.2016","Sugihara.2006","Wang.2020","Wu.2007","Zhou.2021","blank","total","te","het","test","x1","x2"],"paddingInner":0,"paddingOuter":0.5148,"align":0},"axis":null},"text":{"field":"ci","type":"nominal"}}},
 {"transform":[{"filter":"datum.row == 'h1'"}],"mark":{"type":"text","fontWeight":"bold","fontSize":18},"encoding":{"x":{"datum":"ci","type":"nominal","bandPosition":0.5,"scale":{"type":"band","paddingInner":0,"paddingOuter":0.0506,"align":0},"axis":null},"y":{"field":"row","type":"nominal","scale":{"type":"band","domain":["pad0","h1","h2","Abe.2022","E. Agger.2021","Fujita.2009","Kim.2018","Ogawa.2016","Sugihara.2006","Wang.2020","Wu.2007","Zhou.2021","blank","total","te","het","test","x1","x2"],"paddingInner":0,"paddingOuter":0.5148,"align":0},"axis":null},"text":{"field":"ci","type":"nominal"}}}
]},
{"width":422.6,"height":388.25,"data":{"name":"B"},"layer":[
 {"transform":[{"filter":"datum.row == 'h2'"}],"mark":{"type":"rule","color":"#000","strokeWidth":1.6},"encoding":{"y":{"field":"row","type":"nominal","bandPosition":0.88,"scale":{"type":"band","domain":["pad0","h1","h2","Abe.2022","E. Agger.2021","Fujita.2009","Kim.2018","Ogawa.2016","Sugihara.2006","Wang.2020","Wu.2007","Zhou.2021","blank","total"],"paddingInner":0,"paddingOuter":0.673,"align":0},"axis":null}}},
 {"transform":[{"filter":"datum.row == 'h2'"}],"mark":{"type":"rule","color":"#000","strokeWidth":1},"encoding":{"x":{"datum":1,"type":"quantitative","scale":{"type":"log","domain":[0.04399,23.37],"nice":false},"axis":{"values":[0.05,0.2,1,5,20],"format":"~g","labelFlush":15,"labelFlushOffset":8,"title":"VI (+)\u00a0\u00a0\u00a0VI (-)","tickSize":7,"tickWidth":1.5,"tickColor":"#000","domainColor":"#000","domainWidth":1.5,"labelColor":"#000","labelFontSize":18.5,"labelPadding":2,"titleColor":"#000","titleFontSize":18,"titleFontWeight":"normal","titlePadding":6,"grid":false,"encode":{"ticks":{"y":{"value":-7}}}}},"y":{"field":"row","type":"nominal","bandPosition":0.88,"scale":{"type":"band","domain":["pad0","h1","h2","Abe.2022","E. Agger.2021","Fujita.2009","Kim.2018","Ogawa.2016","Sugihara.2006","Wang.2020","Wu.2007","Zhou.2021","blank","total"],"paddingInner":0,"paddingOuter":0.673,"align":0},"axis":null},"y2":{"value":"height"}}},
 {"transform":[{"filter":"isValid(datum.lo) && datum.row != 'total'"}],"mark":{"type":"rule","color":"#1a1a1a","strokeWidth":1.6},"encoding":{"x":{"field":"lo","type":"quantitative","scale":{"type":"log","domain":[0.04399,23.37],"nice":false},"axis":{"values":[0.05,0.2,1,5,20],"format":"~g","labelFlush":15,"labelFlushOffset":8,"title":"VI (+)\u00a0\u00a0\u00a0VI (-)","tickSize":7,"tickWidth":1.5,"tickColor":"#000","domainColor":"#000","domainWidth":1.5,"labelColor":"#000","labelFontSize":18.5,"labelPadding":2,"titleColor":"#000","titleFontSize":18,"titleFontWeight":"normal","titlePadding":6,"grid":false,"encode":{"ticks":{"y":{"value":-7}}}}},"x2":{"field":"hi"},"y":{"field":"row","type":"nominal","scale":{"type":"band","domain":["pad0","h1","h2","Abe.2022","E. Agger.2021","Fujita.2009","Kim.2018","Ogawa.2016","Sugihara.2006","Wang.2020","Wu.2007","Zhou.2021","blank","total"],"paddingInner":0,"paddingOuter":0.673,"align":0},"axis":null}}},
 {"transform":[{"filter":"isValid(datum.lo) && datum.row != 'total'"}],"mark":{"type":"point","shape":"square","filled":true,"fill":"#0000cc","stroke":"#000066","strokeWidth":0.8,"opacity":1},"encoding":{"x":{"field":"or","type":"quantitative","scale":{"type":"log","domain":[0.04399,23.37],"nice":false},"axis":{"values":[0.05,0.2,1,5,20],"format":"~g","labelFlush":15,"labelFlushOffset":8,"title":"VI (+)\u00a0\u00a0\u00a0VI (-)","tickSize":7,"tickWidth":1.5,"tickColor":"#000","domainColor":"#000","domainWidth":1.5,"labelColor":"#000","labelFontSize":18.5,"labelPadding":2,"titleColor":"#000","titleFontSize":18,"titleFontWeight":"normal","titlePadding":6,"grid":false,"encode":{"ticks":{"y":{"value":-7}}}}},"y":{"field":"row","type":"nominal","scale":{"type":"band","domain":["pad0","h1","h2","Abe.2022","E. Agger.2021","Fujita.2009","Kim.2018","Ogawa.2016","Sugihara.2006","Wang.2020","Wu.2007","Zhou.2021","blank","total"],"paddingInner":0,"paddingOuter":0.673,"align":0},"axis":null},"size":{"field":"w","type":"quantitative","scale":{"domain":[0,1],"range":[0,330]},"legend":null}}},
 {"transform":[{"filter":"datum.row == 'total'"}],"mark":{"type":"point","shape":"M-1,0L0,-0.585L1,0L0,0.585Z","filled":true,"fill":"#000","strokeWidth":0,"size":1289,"opacity":1},"encoding":{"x":{"field":"or","type":"quantitative","scale":{"type":"log","domain":[0.04399,23.37],"nice":false},"axis":{"values":[0.05,0.2,1,5,20],"format":"~g","labelFlush":15,"labelFlushOffset":8,"title":"VI (+)\u00a0\u00a0\u00a0VI (-)","tickSize":7,"tickWidth":1.5,"tickColor":"#000","domainColor":"#000","domainWidth":1.5,"labelColor":"#000","labelFontSize":18.5,"labelPadding":2,"titleColor":"#000","titleFontSize":18,"titleFontWeight":"normal","titlePadding":6,"grid":false,"encode":{"ticks":{"y":{"value":-7}}}}},"y":{"field":"row","type":"nominal","scale":{"type":"band","domain":["pad0","h1","h2","Abe.2022","E. Agger.2021","Fujita.2009","Kim.2018","Ogawa.2016","Sugihara.2006","Wang.2020","Wu.2007","Zhou.2021","blank","total"],"paddingInner":0,"paddingOuter":0.673,"align":0},"axis":null}}},
 {"transform":[{"filter":"datum.row == 'h1' || datum.row == 'h2'"}],"mark":{"type":"text","fontWeight":"bold","fontSize":18,"dy":-1},"encoding":{"x":{"datum":1,"type":"quantitative","scale":{"type":"log","domain":[0.04399,23.37],"nice":false},"axis":{"values":[0.05,0.2,1,5,20],"format":"~g","labelFlush":15,"labelFlushOffset":8,"title":"VI (+)\u00a0\u00a0\u00a0VI (-)","tickSize":7,"tickWidth":1.5,"tickColor":"#000","domainColor":"#000","domainWidth":1.5,"labelColor":"#000","labelFontSize":18.5,"labelPadding":2,"titleColor":"#000","titleFontSize":18,"titleFontWeight":"normal","titlePadding":6,"grid":false,"encode":{"ticks":{"y":{"value":-7}}}}},"y":{"field":"row","type":"nominal","scale":{"type":"band","domain":["pad0","h1","h2","Abe.2022","E. Agger.2021","Fujita.2009","Kim.2018","Ogawa.2016","Sugihara.2006","Wang.2020","Wu.2007","Zhou.2021","blank","total"],"paddingInner":0,"paddingOuter":0.673,"align":0},"axis":null},"text":{"field":"ci","type":"nominal"}}}
]},
{"width":16.7,"height":388.25,"data":{"name":"B"},"transform":[{"filter":"datum.row == 'h2'"}],"mark":{"type":"rule","color":"#000","strokeWidth":1.6},"encoding":{"y":{"field":"row","type":"nominal","bandPosition":0.88,"scale":{"type":"band","domain":["pad0","h1","h2","Abe.2022","E. Agger.2021","Fujita.2009","Kim.2018","Ogawa.2016","Sugihara.2006","Wang.2020","Wu.2007","Zhou.2021","blank","total"],"paddingInner":0,"paddingOuter":0.673,"align":0},"axis":null}}}
], "spacing": 0, "bounds": "flush"},

{"hconcat": [
{"width":172,"height":709.5,"data":{"name":"C"},"layer":[
 {"transform":[{"filter":"datum.row == 'h2'"}],"mark":{"type":"rule","color":"#000","strokeWidth":1.6},"encoding":{"y":{"field":"row","type":"nominal","bandPosition":0.83,"scale":{"type":"band","domain":["pad0","h1","h2","Abe.2022","Dev.2018","Fujita.2009","Hiyoshi.2019","Ishibe.2020","Kim.2007","Kim.2018","Komori.2018","Lim.2013","Nakanishi.2020","Ogawa.2016","Park.2018","Sekido.2019","Sugihara.2006","Wang.2019","Wang.2020","Wu.2007","Yang.2021","Zhou.2021","blank","total","te","het","test","x1"],"paddingInner":0,"paddingOuter":0.659,"align":0},"axis":null}}},
 {"transform":[{"filter":"isValid(datum.label) && datum.row != 'h2' && datum.row != 'total'"}],"mark":{"type":"text","align":"left","fontSize":18},"encoding":{"x":{"datum":"label","type":"nominal","bandPosition":0,"scale":{"type":"band","paddingInner":0,"paddingOuter":0},"axis":null},"y":{"field":"row","type":"nominal","scale":{"type":"band","domain":["pad0","h1","h2","Abe.2022","Dev.2018","Fujita.2009","Hiyoshi.2019","Ishibe.2020","Kim.2007","Kim.2018","Komori.2018","Lim.2013","Nakanishi.2020","Ogawa.2016","Park.2018","Sekido.2019","Sugihara.2006","Wang.2019","Wang.2020","Wu.2007","Yang.2021","Zhou.2021","blank","total","te","het","test","x1"],"paddingInner":0,"paddingOuter":0.659,"align":0},"axis":null},"text":{"field":"label","type":"nominal"}}},
 {"transform":[{"filter":"datum.row == 'h2' || datum.row == 'total'"}],"mark":{"type":"text","align":"left","fontWeight":"bold","fontSize":17,"dy":-1},"encoding":{"x":{"datum":"label","type":"nominal","bandPosition":0,"scale":{"type":"band","paddingInner":0,"paddingOuter":0},"axis":null},"y":{"field":"row","type":"nominal","scale":{"type":"band","domain":["pad0","h1","h2","Abe.2022","Dev.2018","Fujita.2009","Hiyoshi.2019","Ishibe.2020","Kim.2007","Kim.2018","Komori.2018","Lim.2013","Nakanishi.2020","Ogawa.2016","Park.2018","Sekido.2019","Sugihara.2006","Wang.2019","Wang.2020","Wu.2007","Yang.2021","Zhou.2021","blank","total","te","het","test","x1"],"paddingInner":0,"paddingOuter":0.659,"align":0},"axis":null},"text":{"field":"label","type":"nominal"}}},
 {"transform":[{"filter":"isValid(datum.letter)"}],"mark":{"type":"text","align":"left","fontWeight":"bold","fontSize":22,"dx":-8,"dy":0},"encoding":{"x":{"datum":"label","type":"nominal","bandPosition":0,"scale":{"type":"band","paddingInner":0,"paddingOuter":0},"axis":null},"y":{"field":"row","type":"nominal","scale":{"type":"band","domain":["pad0","h1","h2","Abe.2022","Dev.2018","Fujita.2009","Hiyoshi.2019","Ishibe.2020","Kim.2007","Kim.2018","Komori.2018","Lim.2013","Nakanishi.2020","Ogawa.2016","Park.2018","Sekido.2019","Sugihara.2006","Wang.2019","Wang.2020","Wu.2007","Yang.2021","Zhou.2021","blank","total","te","het","test","x1"],"paddingInner":0,"paddingOuter":0.659,"align":0},"axis":null},"text":{"field":"letter","type":"nominal"}}}
]},
{"width":130,"height":709.5,"data":{"name":"C"},"layer":[
 {"transform":[{"filter":"datum.row == 'h2'"}],"mark":{"type":"rule","color":"#000","strokeWidth":1.6},"encoding":{"y":{"field":"row","type":"nominal","bandPosition":0.83,"scale":{"type":"band","domain":["pad0","h1","h2","Abe.2022","Dev.2018","Fujita.2009","Hiyoshi.2019","Ishibe.2020","Kim.2007","Kim.2018","Komori.2018","Lim.2013","Nakanishi.2020","Ogawa.2016","Park.2018","Sekido.2019","Sugihara.2006","Wang.2019","Wang.2020","Wu.2007","Yang.2021","Zhou.2021","blank","total","te","het","test","x1"],"paddingInner":0,"paddingOuter":0.659,"align":0},"axis":null}}},
 {"transform":[{"fold":["e1","t1"],"as":["key","value"]},{"filter":"isValid(datum.value) && datum.row != 'h2' && datum.row != 'total'"}],"mark":{"type":"text","align":"right","fontSize":18},"encoding":{"x":{"field":"key","type":"nominal","bandPosition":1,"scale":{"type":"band","domain":["e1","t1"],"paddingInner":0,"paddingOuter":0.1404,"align":1},"axis":null},"y":{"field":"row","type":"nominal","scale":{"type":"band","domain":["pad0","h1","h2","Abe.2022","Dev.2018","Fujita.2009","Hiyoshi.2019","Ishibe.2020","Kim.2007","Kim.2018","Komori.2018","Lim.2013","Nakanishi.2020","Ogawa.2016","Park.2018","Sekido.2019","Sugihara.2006","Wang.2019","Wang.2020","Wu.2007","Yang.2021","Zhou.2021","blank","total","te","het","test","x1"],"paddingInner":0,"paddingOuter":0.659,"align":0},"axis":null},"text":{"field":"value","type":"nominal"}}},
 {"transform":[{"fold":["e1","t1"],"as":["key","value"]},{"filter":"isValid(datum.value) && (datum.row == 'h2' || datum.row == 'total')"}],"mark":{"type":"text","align":"right","fontWeight":"bold","fontSize":17,"dy":-1},"encoding":{"x":{"field":"key","type":"nominal","bandPosition":1,"scale":{"type":"band","domain":["e1","t1"],"paddingInner":0,"paddingOuter":0.1404,"align":1},"axis":null},"y":{"field":"row","type":"nominal","scale":{"type":"band","domain":["pad0","h1","h2","Abe.2022","Dev.2018","Fujita.2009","Hiyoshi.2019","Ishibe.2020","Kim.2007","Kim.2018","Komori.2018","Lim.2013","Nakanishi.2020","Ogawa.2016","Park.2018","Sekido.2019","Sugihara.2006","Wang.2019","Wang.2020","Wu.2007","Yang.2021","Zhou.2021","blank","total","te","het","test","x1"],"paddingInner":0,"paddingOuter":0.659,"align":0},"axis":null},"text":{"field":"value","type":"nominal"}}},
 {"transform":[{"filter":"isValid(datum.g1)"}],"mark":{"type":"text","fontWeight":"bold","fontSize":17},"encoding":{"y":{"field":"row","type":"nominal","scale":{"type":"band","domain":["pad0","h1","h2","Abe.2022","Dev.2018","Fujita.2009","Hiyoshi.2019","Ishibe.2020","Kim.2007","Kim.2018","Komori.2018","Lim.2013","Nakanishi.2020","Ogawa.2016","Park.2018","Sekido.2019","Sugihara.2006","Wang.2019","Wang.2020","Wu.2007","Yang.2021","Zhou.2021","blank","total","te","het","test","x1"],"paddingInner":0,"paddingOuter":0.659,"align":0},"axis":null},"text":{"field":"g1","type":"nominal"}}}
]},
{"width":178,"height":709.5,"data":{"name":"C"},"layer":[
 {"transform":[{"filter":"datum.row == 'h2'"}],"mark":{"type":"rule","color":"#000","strokeWidth":1.6},"encoding":{"y":{"field":"row","type":"nominal","bandPosition":0.83,"scale":{"type":"band","domain":["pad0","h1","h2","Abe.2022","Dev.2018","Fujita.2009","Hiyoshi.2019","Ishibe.2020","Kim.2007","Kim.2018","Komori.2018","Lim.2013","Nakanishi.2020","Ogawa.2016","Park.2018","Sekido.2019","Sugihara.2006","Wang.2019","Wang.2020","Wu.2007","Yang.2021","Zhou.2021","blank","total","te","het","test","x1"],"paddingInner":0,"paddingOuter":0.659,"align":0},"axis":null}}},
 {"transform":[{"fold":["e2","t2"],"as":["key","value"]},{"filter":"isValid(datum.value) && datum.row != 'h2' && datum.row != 'total'"}],"mark":{"type":"text","align":"right","fontSize":18},"encoding":{"x":{"field":"key","type":"nominal","bandPosition":1,"scale":{"type":"band","domain":["e2","t2"],"paddingInner":0,"paddingOuter":0.01136,"align":1},"axis":null},"y":{"field":"row","type":"nominal","scale":{"type":"band","domain":["pad0","h1","h2","Abe.2022","Dev.2018","Fujita.2009","Hiyoshi.2019","Ishibe.2020","Kim.2007","Kim.2018","Komori.2018","Lim.2013","Nakanishi.2020","Ogawa.2016","Park.2018","Sekido.2019","Sugihara.2006","Wang.2019","Wang.2020","Wu.2007","Yang.2021","Zhou.2021","blank","total","te","het","test","x1"],"paddingInner":0,"paddingOuter":0.659,"align":0},"axis":null},"text":{"field":"value","type":"nominal"}}},
 {"transform":[{"fold":["e2","t2"],"as":["key","value"]},{"filter":"isValid(datum.value) && (datum.row == 'h2' || datum.row == 'total')"}],"mark":{"type":"text","align":"right","fontWeight":"bold","fontSize":17,"dy":-1},"encoding":{"x":{"field":"key","type":"nominal","bandPosition":1,"scale":{"type":"band","domain":["e2","t2"],"paddingInner":0,"paddingOuter":0.01136,"align":1},"axis":null},"y":{"field":"row","type":"nominal","scale":{"type":"band","domain":["pad0","h1","h2","Abe.2022","Dev.2018","Fujita.2009","Hiyoshi.2019","Ishibe.2020","Kim.2007","Kim.2018","Komori.2018","Lim.2013","Nakanishi.2020","Ogawa.2016","Park.2018","Sekido.2019","Sugihara.2006","Wang.2019","Wang.2020","Wu.2007","Yang.2021","Zhou.2021","blank","total","te","het","test","x1"],"paddingInner":0,"paddingOuter":0.659,"align":0},"axis":null},"text":{"field":"value","type":"nominal"}}},
 {"transform":[{"filter":"isValid(datum.g2)"}],"mark":{"type":"text","fontWeight":"bold","fontSize":17},"encoding":{"y":{"field":"row","type":"nominal","scale":{"type":"band","domain":["pad0","h1","h2","Abe.2022","Dev.2018","Fujita.2009","Hiyoshi.2019","Ishibe.2020","Kim.2007","Kim.2018","Komori.2018","Lim.2013","Nakanishi.2020","Ogawa.2016","Park.2018","Sekido.2019","Sugihara.2006","Wang.2019","Wang.2020","Wu.2007","Yang.2021","Zhou.2021","blank","total","te","het","test","x1"],"paddingInner":0,"paddingOuter":0.659,"align":0},"axis":null},"text":{"field":"g2","type":"nominal"}}}
]},
{"width":75,"height":709.5,"data":{"name":"C"},"layer":[
 {"transform":[{"filter":"datum.row == 'h2'"}],"mark":{"type":"rule","color":"#000","strokeWidth":1.6},"encoding":{"y":{"field":"row","type":"nominal","bandPosition":0.83,"scale":{"type":"band","domain":["pad0","h1","h2","Abe.2022","Dev.2018","Fujita.2009","Hiyoshi.2019","Ishibe.2020","Kim.2007","Kim.2018","Komori.2018","Lim.2013","Nakanishi.2020","Ogawa.2016","Park.2018","Sekido.2019","Sugihara.2006","Wang.2019","Wang.2020","Wu.2007","Yang.2021","Zhou.2021","blank","total","te","het","test","x1"],"paddingInner":0,"paddingOuter":0.659,"align":0},"axis":null}}},
 {"transform":[{"filter":"isValid(datum.w) && datum.row != 'total'"}],"mark":{"type":"text","align":"right","fontSize":18},"encoding":{"x":{"datum":"w","type":"nominal","bandPosition":1,"scale":{"type":"band","paddingInner":0,"paddingOuter":0},"axis":null},"y":{"field":"row","type":"nominal","scale":{"type":"band","domain":["pad0","h1","h2","Abe.2022","Dev.2018","Fujita.2009","Hiyoshi.2019","Ishibe.2020","Kim.2007","Kim.2018","Komori.2018","Lim.2013","Nakanishi.2020","Ogawa.2016","Park.2018","Sekido.2019","Sugihara.2006","Wang.2019","Wang.2020","Wu.2007","Yang.2021","Zhou.2021","blank","total","te","het","test","x1"],"paddingInner":0,"paddingOuter":0.659,"align":0},"axis":null},"text":{"field":"w","type":"quantitative","format":".1%"}}},
 {"transform":[{"filter":"datum.row == 'total'"}],"mark":{"type":"text","align":"right","fontWeight":"bold","fontSize":17,"dy":-1},"encoding":{"x":{"datum":"w","type":"nominal","bandPosition":1,"scale":{"type":"band","paddingInner":0,"paddingOuter":0},"axis":null},"y":{"field":"row","type":"nominal","scale":{"type":"band","domain":["pad0","h1","h2","Abe.2022","Dev.2018","Fujita.2009","Hiyoshi.2019","Ishibe.2020","Kim.2007","Kim.2018","Komori.2018","Lim.2013","Nakanishi.2020","Ogawa.2016","Park.2018","Sekido.2019","Sugihara.2006","Wang.2019","Wang.2020","Wu.2007","Yang.2021","Zhou.2021","blank","total","te","het","test","x1"],"paddingInner":0,"paddingOuter":0.659,"align":0},"axis":null},"text":{"field":"w","type":"quantitative","format":".1%"}}},
 {"transform":[{"filter":"isValid(datum.wt)"}],"mark":{"type":"text","align":"right","fontWeight":"bold","fontSize":17,"dy":-1},"encoding":{"x":{"datum":"w","type":"nominal","bandPosition":1,"scale":{"type":"band","paddingInner":0,"paddingOuter":0},"axis":null},"y":{"field":"row","type":"nominal","scale":{"type":"band","domain":["pad0","h1","h2","Abe.2022","Dev.2018","Fujita.2009","Hiyoshi.2019","Ishibe.2020","Kim.2007","Kim.2018","Komori.2018","Lim.2013","Nakanishi.2020","Ogawa.2016","Park.2018","Sekido.2019","Sugihara.2006","Wang.2019","Wang.2020","Wu.2007","Yang.2021","Zhou.2021","blank","total","te","het","test","x1"],"paddingInner":0,"paddingOuter":0.659,"align":0},"axis":null},"text":{"field":"wt","type":"nominal"}}}
]},
{"width":184.3,"height":709.5,"data":{"name":"C"},"layer":[
 {"transform":[{"filter":"datum.row == 'h2'"}],"mark":{"type":"rule","color":"#000","strokeWidth":1.6},"encoding":{"y":{"field":"row","type":"nominal","bandPosition":0.83,"scale":{"type":"band","domain":["pad0","h1","h2","Abe.2022","Dev.2018","Fujita.2009","Hiyoshi.2019","Ishibe.2020","Kim.2007","Kim.2018","Komori.2018","Lim.2013","Nakanishi.2020","Ogawa.2016","Park.2018","Sekido.2019","Sugihara.2006","Wang.2019","Wang.2020","Wu.2007","Yang.2021","Zhou.2021","blank","total","te","het","test","x1"],"paddingInner":0,"paddingOuter":0.659,"align":0},"axis":null}}},
 {"transform":[{"filter":"isValid(datum.ci) && datum.row != 'h1' && datum.row != 'h2' && datum.row != 'total'"}],"mark":{"type":"text","align":"right","fontSize":18},"encoding":{"x":{"datum":"ci","type":"nominal","bandPosition":1,"scale":{"type":"band","paddingInner":0,"paddingOuter":0.0485,"align":0},"axis":null},"y":{"field":"row","type":"nominal","scale":{"type":"band","domain":["pad0","h1","h2","Abe.2022","Dev.2018","Fujita.2009","Hiyoshi.2019","Ishibe.2020","Kim.2007","Kim.2018","Komori.2018","Lim.2013","Nakanishi.2020","Ogawa.2016","Park.2018","Sekido.2019","Sugihara.2006","Wang.2019","Wang.2020","Wu.2007","Yang.2021","Zhou.2021","blank","total","te","het","test","x1"],"paddingInner":0,"paddingOuter":0.659,"align":0},"axis":null},"text":{"field":"ci","type":"nominal"}}},
 {"transform":[{"filter":"datum.row == 'h2' || datum.row == 'total'"}],"mark":{"type":"text","align":"right","fontWeight":"bold","fontSize":17,"dy":-1},"encoding":{"x":{"datum":"ci","type":"nominal","bandPosition":1,"scale":{"type":"band","paddingInner":0,"paddingOuter":0.0485,"align":0},"axis":null},"y":{"field":"row","type":"nominal","scale":{"type":"band","domain":["pad0","h1","h2","Abe.2022","Dev.2018","Fujita.2009","Hiyoshi.2019","Ishibe.2020","Kim.2007","Kim.2018","Komori.2018","Lim.2013","Nakanishi.2020","Ogawa.2016","Park.2018","Sekido.2019","Sugihara.2006","Wang.2019","Wang.2020","Wu.2007","Yang.2021","Zhou.2021","blank","total","te","het","test","x1"],"paddingInner":0,"paddingOuter":0.659,"align":0},"axis":null},"text":{"field":"ci","type":"nominal"}}},
 {"transform":[{"filter":"datum.row == 'h1'"}],"mark":{"type":"text","fontWeight":"bold","fontSize":17},"encoding":{"x":{"datum":"ci","type":"nominal","bandPosition":0.5,"scale":{"type":"band","paddingInner":0,"paddingOuter":0.0485,"align":0},"axis":null},"y":{"field":"row","type":"nominal","scale":{"type":"band","domain":["pad0","h1","h2","Abe.2022","Dev.2018","Fujita.2009","Hiyoshi.2019","Ishibe.2020","Kim.2007","Kim.2018","Komori.2018","Lim.2013","Nakanishi.2020","Ogawa.2016","Park.2018","Sekido.2019","Sugihara.2006","Wang.2019","Wang.2020","Wu.2007","Yang.2021","Zhou.2021","blank","total","te","het","test","x1"],"paddingInner":0,"paddingOuter":0.659,"align":0},"axis":null},"text":{"field":"ci","type":"nominal"}}}
]},
{"width":402.4,"height":611.5,"data":{"name":"C"},"layer":[
 {"transform":[{"filter":"datum.row == 'h2'"}],"mark":{"type":"rule","color":"#000","strokeWidth":1.6},"encoding":{"y":{"field":"row","type":"nominal","bandPosition":0.83,"scale":{"type":"band","domain":["pad0","h1","h2","Abe.2022","Dev.2018","Fujita.2009","Hiyoshi.2019","Ishibe.2020","Kim.2007","Kim.2018","Komori.2018","Lim.2013","Nakanishi.2020","Ogawa.2016","Park.2018","Sekido.2019","Sugihara.2006","Wang.2019","Wang.2020","Wu.2007","Yang.2021","Zhou.2021","blank","total"],"paddingInner":0,"paddingOuter":0.635,"align":0},"axis":null}}},
 {"transform":[{"filter":"datum.row == 'h2'"}],"mark":{"type":"rule","color":"#000","strokeWidth":1},"encoding":{"x":{"datum":1,"type":"quantitative","scale":{"type":"log","domain":[0.0054,189.8],"nice":false},"axis":{"values":[0.01,0.1,1,10,100],"format":"~g","labelFlush":15,"labelFlushOffset":0,"title":"\u200b\u00a0\u00a0\u00a0\u00a0\u00a0\u00a0\u00a0\u00a0\u00a0\u00a0\u00a0\u00a0\u00a0\u00a0\u00a0\u00a0\u00a0\u00a0\u00a0\u00a0Poor\u00a0\u00a0\u00a0Well or moderate","tickSize":7,"tickWidth":1.5,"tickColor":"#000","domainColor":"#000","domainWidth":1.5,"labelColor":"#000","labelFontSize":17.5,"labelPadding":2,"titleColor":"#000","titleFontSize":18,"titleFontWeight":"normal","titlePadding":6,"grid":false,"encode":{"ticks":{"y":{"value":-7}}}}},"y":{"field":"row","type":"nominal","bandPosition":0.83,"scale":{"type":"band","domain":["pad0","h1","h2","Abe.2022","Dev.2018","Fujita.2009","Hiyoshi.2019","Ishibe.2020","Kim.2007","Kim.2018","Komori.2018","Lim.2013","Nakanishi.2020","Ogawa.2016","Park.2018","Sekido.2019","Sugihara.2006","Wang.2019","Wang.2020","Wu.2007","Yang.2021","Zhou.2021","blank","total"],"paddingInner":0,"paddingOuter":0.635,"align":0},"axis":null},"y2":{"value":"height"}}},
 {"transform":[{"filter":"isValid(datum.lo) && datum.row != 'total'"}],"mark":{"type":"rule","color":"#1a1a1a","strokeWidth":1.6},"encoding":{"x":{"field":"lo","type":"quantitative","scale":{"type":"log","domain":[0.0054,189.8],"nice":false},"axis":{"values":[0.01,0.1,1,10,100],"format":"~g","labelFlush":15,"labelFlushOffset":0,"title":"\u200b\u00a0\u00a0\u00a0\u00a0\u00a0\u00a0\u00a0\u00a0\u00a0\u00a0\u00a0\u00a0\u00a0\u00a0\u00a0\u00a0\u00a0\u00a0\u00a0\u00a0Poor\u00a0\u00a0\u00a0Well or moderate","tickSize":7,"tickWidth":1.5,"tickColor":"#000","domainColor":"#000","domainWidth":1.5,"labelColor":"#000","labelFontSize":17.5,"labelPadding":2,"titleColor":"#000","titleFontSize":18,"titleFontWeight":"normal","titlePadding":6,"grid":false,"encode":{"ticks":{"y":{"value":-7}}}}},"x2":{"field":"hi"},"y":{"field":"row","type":"nominal","scale":{"type":"band","domain":["pad0","h1","h2","Abe.2022","Dev.2018","Fujita.2009","Hiyoshi.2019","Ishibe.2020","Kim.2007","Kim.2018","Komori.2018","Lim.2013","Nakanishi.2020","Ogawa.2016","Park.2018","Sekido.2019","Sugihara.2006","Wang.2019","Wang.2020","Wu.2007","Yang.2021","Zhou.2021","blank","total"],"paddingInner":0,"paddingOuter":0.635,"align":0},"axis":null}}},
 {"transform":[{"filter":"isValid(datum.lo) && datum.row != 'total'"}],"mark":{"type":"point","shape":"square","filled":true,"fill":"#0000cc","stroke":"#000066","strokeWidth":0.8,"opacity":1},"encoding":{"x":{"field":"or","type":"quantitative","scale":{"type":"log","domain":[0.0054,189.8],"nice":false},"axis":{"values":[0.01,0.1,1,10,100],"format":"~g","labelFlush":15,"labelFlushOffset":0,"title":"\u200b\u00a0\u00a0\u00a0\u00a0\u00a0\u00a0\u00a0\u00a0\u00a0\u00a0\u00a0\u00a0\u00a0\u00a0\u00a0\u00a0\u00a0\u00a0\u00a0\u00a0Poor\u00a0\u00a0\u00a0Well or moderate","tickSize":7,"tickWidth":1.5,"tickColor":"#000","domainColor":"#000","domainWidth":1.5,"labelColor":"#000","labelFontSize":17.5,"labelPadding":2,"titleColor":"#000","titleFontSize":18,"titleFontWeight":"normal","titlePadding":6,"grid":false,"encode":{"ticks":{"y":{"value":-7}}}}},"y":{"field":"row","type":"nominal","scale":{"type":"band","domain":["pad0","h1","h2","Abe.2022","Dev.2018","Fujita.2009","Hiyoshi.2019","Ishibe.2020","Kim.2007","Kim.2018","Komori.2018","Lim.2013","Nakanishi.2020","Ogawa.2016","Park.2018","Sekido.2019","Sugihara.2006","Wang.2019","Wang.2020","Wu.2007","Yang.2021","Zhou.2021","blank","total"],"paddingInner":0,"paddingOuter":0.635,"align":0},"axis":null},"size":{"field":"w","type":"quantitative","scale":{"domain":[0,1],"range":[0,390]},"legend":null}}},
 {"transform":[{"filter":"datum.row == 'total'"}],"mark":{"type":"point","shape":"M-1,0L0,-1.07L1,0L0,1.07Z","filled":true,"fill":"#000","strokeWidth":0,"size":350,"opacity":1},"encoding":{"x":{"field":"or","type":"quantitative","scale":{"type":"log","domain":[0.0054,189.8],"nice":false},"axis":{"values":[0.01,0.1,1,10,100],"format":"~g","labelFlush":15,"labelFlushOffset":0,"title":"\u200b\u00a0\u00a0\u00a0\u00a0\u00a0\u00a0\u00a0\u00a0\u00a0\u00a0\u00a0\u00a0\u00a0\u00a0\u00a0\u00a0\u00a0\u00a0\u00a0\u00a0Poor\u00a0\u00a0\u00a0Well or moderate","tickSize":7,"tickWidth":1.5,"tickColor":"#000","domainColor":"#000","domainWidth":1.5,"labelColor":"#000","labelFontSize":17.5,"labelPadding":2,"titleColor":"#000","titleFontSize":18,"titleFontWeight":"normal","titlePadding":6,"grid":false,"encode":{"ticks":{"y":{"value":-7}}}}},"y":{"field":"row","type":"nominal","scale":{"type":"band","domain":["pad0","h1","h2","Abe.2022","Dev.2018","Fujita.2009","Hiyoshi.2019","Ishibe.2020","Kim.2007","Kim.2018","Komori.2018","Lim.2013","Nakanishi.2020","Ogawa.2016","Park.2018","Sekido.2019","Sugihara.2006","Wang.2019","Wang.2020","Wu.2007","Yang.2021","Zhou.2021","blank","total"],"paddingInner":0,"paddingOuter":0.635,"align":0},"axis":null}}},
 {"transform":[{"filter":"datum.row == 'h1' || datum.row == 'h2'"}],"mark":{"type":"text","fontWeight":"bold","fontSize":17,"dy":-1},"encoding":{"x":{"datum":1,"type":"quantitative","scale":{"type":"log","domain":[0.0054,189.8],"nice":false},"axis":{"values":[0.01,0.1,1,10,100],"format":"~g","labelFlush":15,"labelFlushOffset":0,"title":"\u200b\u00a0\u00a0\u00a0\u00a0\u00a0\u00a0\u00a0\u00a0\u00a0\u00a0\u00a0\u00a0\u00a0\u00a0\u00a0\u00a0\u00a0\u00a0\u00a0\u00a0Poor\u00a0\u00a0\u00a0Well or moderate","tickSize":7,"tickWidth":1.5,"tickColor":"#000","domainColor":"#000","domainWidth":1.5,"labelColor":"#000","labelFontSize":17.5,"labelPadding":2,"titleColor":"#000","titleFontSize":18,"titleFontWeight":"normal","titlePadding":6,"grid":false,"encode":{"ticks":{"y":{"value":-7}}}}},"y":{"field":"row","type":"nominal","scale":{"type":"band","domain":["pad0","h1","h2","Abe.2022","Dev.2018","Fujita.2009","Hiyoshi.2019","Ishibe.2020","Kim.2007","Kim.2018","Komori.2018","Lim.2013","Nakanishi.2020","Ogawa.2016","Park.2018","Sekido.2019","Sugihara.2006","Wang.2019","Wang.2020","Wu.2007","Yang.2021","Zhou.2021","blank","total"],"paddingInner":0,"paddingOuter":0.635,"align":0},"axis":null},"text":{"field":"ci","type":"nominal"}}}
]},
{"width":24.3,"height":611.5,"data":{"name":"C"},"transform":[{"filter":"datum.row == 'h2'"}],"mark":{"type":"rule","color":"#000","strokeWidth":1.6},"encoding":{"y":{"field":"row","type":"nominal","bandPosition":0.83,"scale":{"type":"band","domain":["pad0","h1","h2","Abe.2022","Dev.2018","Fujita.2009","Hiyoshi.2019","Ishibe.2020","Kim.2007","Kim.2018","Komori.2018","Lim.2013","Nakanishi.2020","Ogawa.2016","Park.2018","Sekido.2019","Sugihara.2006","Wang.2019","Wang.2020","Wu.2007","Yang.2021","Zhou.2021","blank","total"],"paddingInner":0,"paddingOuter":0.635,"align":0},"axis":null}}}
], "spacing": 0, "bounds": "flush"},

{"hconcat": [
{"width":179,"height":277.2,"data":{"name":"D"},"layer":[
 {"transform":[{"filter":"datum.row == 'h2'"}],"mark":{"type":"rule","color":"#000","strokeWidth":1.6},"encoding":{"y":{"field":"row","type":"nominal","bandPosition":0.85,"scale":{"type":"band","domain":["pad0","h1","h2","Iwasa.2021","Kim.2007","Lim.2013","blank","total","te","het","test"],"paddingInner":0,"paddingOuter":0,"align":0},"axis":null}}},
 {"transform":[{"filter":"isValid(datum.label) && datum.row != 'h2' && datum.row != 'total'"}],"mark":{"type":"text","align":"left"},"encoding":{"x":{"datum":"label","type":"nominal","bandPosition":0,"scale":{"type":"band","paddingInner":0,"paddingOuter":0},"axis":null},"y":{"field":"row","type":"nominal","scale":{"type":"band","domain":["pad0","h1","h2","Iwasa.2021","Kim.2007","Lim.2013","blank","total","te","het","test"],"paddingInner":0,"paddingOuter":0,"align":0},"axis":null},"text":{"field":"label","type":"nominal"}}},
 {"transform":[{"filter":"datum.row == 'h2' || datum.row == 'total'"}],"mark":{"type":"text","align":"left","fontWeight":"bold","fontSize":18,"dy":-1},"encoding":{"x":{"datum":"label","type":"nominal","bandPosition":0,"scale":{"type":"band","paddingInner":0,"paddingOuter":0},"axis":null},"y":{"field":"row","type":"nominal","scale":{"type":"band","domain":["pad0","h1","h2","Iwasa.2021","Kim.2007","Lim.2013","blank","total","te","het","test"],"paddingInner":0,"paddingOuter":0,"align":0},"axis":null},"text":{"field":"label","type":"nominal"}}},
 {"transform":[{"filter":"isValid(datum.letter)"}],"mark":{"type":"text","align":"left","fontWeight":"bold","fontSize":22,"dx":-8,"dy":15.6},"encoding":{"x":{"datum":"label","type":"nominal","bandPosition":0,"scale":{"type":"band","paddingInner":0,"paddingOuter":0},"axis":null},"y":{"field":"row","type":"nominal","scale":{"type":"band","domain":["pad0","h1","h2","Iwasa.2021","Kim.2007","Lim.2013","blank","total","te","het","test"],"paddingInner":0,"paddingOuter":0,"align":0},"axis":null},"text":{"field":"letter","type":"nominal"}}}
]},
{"width":134,"height":277.2,"data":{"name":"D"},"layer":[
 {"transform":[{"filter":"datum.row == 'h2'"}],"mark":{"type":"rule","color":"#000","strokeWidth":1.6},"encoding":{"y":{"field":"row","type":"nominal","bandPosition":0.85,"scale":{"type":"band","domain":["pad0","h1","h2","Iwasa.2021","Kim.2007","Lim.2013","blank","total","te","het","test"],"paddingInner":0,"paddingOuter":0,"align":0},"axis":null}}},
 {"transform":[{"fold":["e1","t1"],"as":["key","value"]},{"filter":"isValid(datum.value) && datum.row != 'h2' && datum.row != 'total'"}],"mark":{"type":"text","align":"right"},"encoding":{"x":{"field":"key","type":"nominal","bandPosition":1,"scale":{"type":"band","domain":["e1","t1"],"paddingInner":0,"paddingOuter":0.1356,"align":1},"axis":null},"y":{"field":"row","type":"nominal","scale":{"type":"band","domain":["pad0","h1","h2","Iwasa.2021","Kim.2007","Lim.2013","blank","total","te","het","test"],"paddingInner":0,"paddingOuter":0,"align":0},"axis":null},"text":{"field":"value","type":"nominal"}}},
 {"transform":[{"fold":["e1","t1"],"as":["key","value"]},{"filter":"isValid(datum.value) && (datum.row == 'h2' || datum.row == 'total')"}],"mark":{"type":"text","align":"right","fontWeight":"bold","fontSize":18,"dy":-1},"encoding":{"x":{"field":"key","type":"nominal","bandPosition":1,"scale":{"type":"band","domain":["e1","t1"],"paddingInner":0,"paddingOuter":0.1356,"align":1},"axis":null},"y":{"field":"row","type":"nominal","scale":{"type":"band","domain":["pad0","h1","h2","Iwasa.2021","Kim.2007","Lim.2013","blank","total","te","het","test"],"paddingInner":0,"paddingOuter":0,"align":0},"axis":null},"text":{"field":"value","type":"nominal"}}},
 {"transform":[{"filter":"isValid(datum.g1)"}],"mark":{"type":"text","fontWeight":"bold","fontSize":18},"encoding":{"y":{"field":"row","type":"nominal","scale":{"type":"band","domain":["pad0","h1","h2","Iwasa.2021","Kim.2007","Lim.2013","blank","total","te","het","test"],"paddingInner":0,"paddingOuter":0,"align":0},"axis":null},"text":{"field":"g1","type":"nominal"}}}
]},
{"width":133,"height":277.2,"data":{"name":"D"},"layer":[
 {"transform":[{"filter":"datum.row == 'h2'"}],"mark":{"type":"rule","color":"#000","strokeWidth":1.6},"encoding":{"y":{"field":"row","type":"nominal","bandPosition":0.85,"scale":{"type":"band","domain":["pad0","h1","h2","Iwasa.2021","Kim.2007","Lim.2013","blank","total","te","het","test"],"paddingInner":0,"paddingOuter":0,"align":0},"axis":null}}},
 {"transform":[{"fold":["e2","t2"],"as":["key","value"]},{"filter":"isValid(datum.value) && datum.row != 'h2' && datum.row != 'total'"}],"mark":{"type":"text","align":"right"},"encoding":{"x":{"field":"key","type":"nominal","bandPosition":1,"scale":{"type":"band","domain":["e2","t2"],"paddingInner":0,"paddingOuter":0.1466,"align":1},"axis":null},"y":{"field":"row","type":"nominal","scale":{"type":"band","domain":["pad0","h1","h2","Iwasa.2021","Kim.2007","Lim.2013","blank","total","te","het","test"],"paddingInner":0,"paddingOuter":0,"align":0},"axis":null},"text":{"field":"value","type":"nominal"}}},
 {"transform":[{"fold":["e2","t2"],"as":["key","value"]},{"filter":"isValid(datum.value) && (datum.row == 'h2' || datum.row == 'total')"}],"mark":{"type":"text","align":"right","fontWeight":"bold","fontSize":18,"dy":-1},"encoding":{"x":{"field":"key","type":"nominal","bandPosition":1,"scale":{"type":"band","domain":["e2","t2"],"paddingInner":0,"paddingOuter":0.1466,"align":1},"axis":null},"y":{"field":"row","type":"nominal","scale":{"type":"band","domain":["pad0","h1","h2","Iwasa.2021","Kim.2007","Lim.2013","blank","total","te","het","test"],"paddingInner":0,"paddingOuter":0,"align":0},"axis":null},"text":{"field":"value","type":"nominal"}}},
 {"transform":[{"filter":"isValid(datum.g2)"}],"mark":{"type":"text","fontWeight":"bold","fontSize":18},"encoding":{"y":{"field":"row","type":"nominal","scale":{"type":"band","domain":["pad0","h1","h2","Iwasa.2021","Kim.2007","Lim.2013","blank","total","te","het","test"],"paddingInner":0,"paddingOuter":0,"align":0},"axis":null},"text":{"field":"g2","type":"nominal"}}}
]},
{"width":78,"height":277.2,"data":{"name":"D"},"layer":[
 {"transform":[{"filter":"datum.row == 'h2'"}],"mark":{"type":"rule","color":"#000","strokeWidth":1.6},"encoding":{"y":{"field":"row","type":"nominal","bandPosition":0.85,"scale":{"type":"band","domain":["pad0","h1","h2","Iwasa.2021","Kim.2007","Lim.2013","blank","total","te","het","test"],"paddingInner":0,"paddingOuter":0,"align":0},"axis":null}}},
 {"transform":[{"filter":"isValid(datum.w) && datum.row != 'total'"}],"mark":{"type":"text","align":"right"},"encoding":{"x":{"datum":"w","type":"nominal","bandPosition":1,"scale":{"type":"band","paddingInner":0,"paddingOuter":0},"axis":null},"y":{"field":"row","type":"nominal","scale":{"type":"band","domain":["pad0","h1","h2","Iwasa.2021","Kim.2007","Lim.2013","blank","total","te","het","test"],"paddingInner":0,"paddingOuter":0,"align":0},"axis":null},"text":{"field":"w","type":"quantitative","format":".1%"}}},
 {"transform":[{"filter":"datum.row == 'total'"}],"mark":{"type":"text","align":"right","fontWeight":"bold","fontSize":18,"dy":-1},"encoding":{"x":{"datum":"w","type":"nominal","bandPosition":1,"scale":{"type":"band","paddingInner":0,"paddingOuter":0},"axis":null},"y":{"field":"row","type":"nominal","scale":{"type":"band","domain":["pad0","h1","h2","Iwasa.2021","Kim.2007","Lim.2013","blank","total","te","het","test"],"paddingInner":0,"paddingOuter":0,"align":0},"axis":null},"text":{"field":"w","type":"quantitative","format":".1%"}}},
 {"transform":[{"filter":"isValid(datum.wt)"}],"mark":{"type":"text","align":"right","fontWeight":"bold","fontSize":18,"dy":-1},"encoding":{"x":{"datum":"w","type":"nominal","bandPosition":1,"scale":{"type":"band","paddingInner":0,"paddingOuter":0},"axis":null},"y":{"field":"row","type":"nominal","scale":{"type":"band","domain":["pad0","h1","h2","Iwasa.2021","Kim.2007","Lim.2013","blank","total","te","het","test"],"paddingInner":0,"paddingOuter":0,"align":0},"axis":null},"text":{"field":"wt","type":"nominal"}}}
]},
{"width":190.3,"height":277.2,"data":{"name":"D"},"layer":[
 {"transform":[{"filter":"datum.row == 'h2'"}],"mark":{"type":"rule","color":"#000","strokeWidth":1.6},"encoding":{"y":{"field":"row","type":"nominal","bandPosition":0.85,"scale":{"type":"band","domain":["pad0","h1","h2","Iwasa.2021","Kim.2007","Lim.2013","blank","total","te","het","test"],"paddingInner":0,"paddingOuter":0,"align":0},"axis":null}}},
 {"transform":[{"filter":"isValid(datum.ci) && datum.row != 'h1' && datum.row != 'h2' && datum.row != 'total'"}],"mark":{"type":"text","align":"right"},"encoding":{"x":{"datum":"ci","type":"nominal","bandPosition":1,"scale":{"type":"band","paddingInner":0,"paddingOuter":0.05,"align":0},"axis":null},"y":{"field":"row","type":"nominal","scale":{"type":"band","domain":["pad0","h1","h2","Iwasa.2021","Kim.2007","Lim.2013","blank","total","te","het","test"],"paddingInner":0,"paddingOuter":0,"align":0},"axis":null},"text":{"field":"ci","type":"nominal"}}},
 {"transform":[{"filter":"datum.row == 'h2' || datum.row == 'total'"}],"mark":{"type":"text","align":"right","fontWeight":"bold","fontSize":18,"dy":-1},"encoding":{"x":{"datum":"ci","type":"nominal","bandPosition":1,"scale":{"type":"band","paddingInner":0,"paddingOuter":0.05,"align":0},"axis":null},"y":{"field":"row","type":"nominal","scale":{"type":"band","domain":["pad0","h1","h2","Iwasa.2021","Kim.2007","Lim.2013","blank","total","te","het","test"],"paddingInner":0,"paddingOuter":0,"align":0},"axis":null},"text":{"field":"ci","type":"nominal"}}},
 {"transform":[{"filter":"datum.row == 'h1'"}],"mark":{"type":"text","fontWeight":"bold","fontSize":18},"encoding":{"x":{"datum":"ci","type":"nominal","bandPosition":0.5,"scale":{"type":"band","paddingInner":0,"paddingOuter":0.05,"align":0},"axis":null},"y":{"field":"row","type":"nominal","scale":{"type":"band","domain":["pad0","h1","h2","Iwasa.2021","Kim.2007","Lim.2013","blank","total","te","het","test"],"paddingInner":0,"paddingOuter":0,"align":0},"axis":null},"text":{"field":"ci","type":"nominal"}}}
]},
{"width":415.7,"height":232.9,"data":{"name":"D"},"layer":[
 {"transform":[{"filter":"datum.row == 'h2'"}],"mark":{"type":"rule","color":"#000","strokeWidth":1.6},"encoding":{"y":{"field":"row","type":"nominal","bandPosition":0.85,"scale":{"type":"band","domain":["pad0","h1","h2","Iwasa.2021","Kim.2007","Lim.2013","blank","total"],"paddingInner":0,"paddingOuter":0.621,"align":0},"axis":null}}},
 {"transform":[{"filter":"datum.row == 'h2'"}],"mark":{"type":"rule","color":"#000","strokeWidth":1},"encoding":{"x":{"datum":1,"type":"quantitative","scale":{"type":"log","domain":[0.004457,236],"nice":false},"axis":{"values":[0.005,0.1,1,10,200],"format":"~g","labelFlush":15,"labelFlushOffset":4,"title":"R1\u00a0\u00a0\u00a0\u00a0R0","tickSize":7,"tickWidth":1.5,"tickColor":"#000","domainColor":"#000","domainWidth":1.5,"labelColor":"#000","labelFontSize":18.5,"labelPadding":2,"titleColor":"#000","titleFontSize":17.5,"titleFontWeight":"normal","titlePadding":0,"grid":false,"encode":{"ticks":{"y":{"value":-7}}}}},"y":{"field":"row","type":"nominal","bandPosition":0.85,"scale":{"type":"band","domain":["pad0","h1","h2","Iwasa.2021","Kim.2007","Lim.2013","blank","total"],"paddingInner":0,"paddingOuter":0.621,"align":0},"axis":null},"y2":{"value":"height"}}},
 {"transform":[{"filter":"isValid(datum.lo) && datum.row != 'total'"}],"mark":{"type":"rule","color":"#1a1a1a","strokeWidth":1.6},"encoding":{"x":{"field":"lo","type":"quantitative","scale":{"type":"log","domain":[0.004457,236],"nice":false},"axis":{"values":[0.005,0.1,1,10,200],"format":"~g","labelFlush":15,"labelFlushOffset":4,"title":"R1\u00a0\u00a0\u00a0\u00a0R0","tickSize":7,"tickWidth":1.5,"tickColor":"#000","domainColor":"#000","domainWidth":1.5,"labelColor":"#000","labelFontSize":18.5,"labelPadding":2,"titleColor":"#000","titleFontSize":17.5,"titleFontWeight":"normal","titlePadding":0,"grid":false,"encode":{"ticks":{"y":{"value":-7}}}}},"x2":{"field":"hi"},"y":{"field":"row","type":"nominal","scale":{"type":"band","domain":["pad0","h1","h2","Iwasa.2021","Kim.2007","Lim.2013","blank","total"],"paddingInner":0,"paddingOuter":0.621,"align":0},"axis":null}}},
 {"transform":[{"filter":"isValid(datum.lo) && datum.row != 'total'"}],"mark":{"type":"point","shape":"square","filled":true,"fill":"#0000cc","stroke":"#000066","strokeWidth":0.8,"opacity":1},"encoding":{"x":{"field":"or","type":"quantitative","scale":{"type":"log","domain":[0.004457,236],"nice":false},"axis":{"values":[0.005,0.1,1,10,200],"format":"~g","labelFlush":15,"labelFlushOffset":4,"title":"R1\u00a0\u00a0\u00a0\u00a0R0","tickSize":7,"tickWidth":1.5,"tickColor":"#000","domainColor":"#000","domainWidth":1.5,"labelColor":"#000","labelFontSize":18.5,"labelPadding":2,"titleColor":"#000","titleFontSize":17.5,"titleFontWeight":"normal","titlePadding":0,"grid":false,"encode":{"ticks":{"y":{"value":-7}}}}},"y":{"field":"row","type":"nominal","scale":{"type":"band","domain":["pad0","h1","h2","Iwasa.2021","Kim.2007","Lim.2013","blank","total"],"paddingInner":0,"paddingOuter":0.621,"align":0},"axis":null},"size":{"field":"w","type":"quantitative","scale":{"domain":[0,1],"range":[0,510]},"legend":null}}},
 {"transform":[{"filter":"datum.row == 'total'"}],"mark":{"type":"point","shape":"M-1,0L0,-0.2925L1,0L0,0.2925Z","filled":true,"fill":"#000","strokeWidth":0,"size":5155,"opacity":1},"encoding":{"x":{"field":"or","type":"quantitative","scale":{"type":"log","domain":[0.004457,236],"nice":false},"axis":{"values":[0.005,0.1,1,10,200],"format":"~g","labelFlush":15,"labelFlushOffset":4,"title":"R1\u00a0\u00a0\u00a0\u00a0R0","tickSize":7,"tickWidth":1.5,"tickColor":"#000","domainColor":"#000","domainWidth":1.5,"labelColor":"#000","labelFontSize":18.5,"labelPadding":2,"titleColor":"#000","titleFontSize":17.5,"titleFontWeight":"normal","titlePadding":0,"grid":false,"encode":{"ticks":{"y":{"value":-7}}}}},"y":{"field":"row","type":"nominal","scale":{"type":"band","domain":["pad0","h1","h2","Iwasa.2021","Kim.2007","Lim.2013","blank","total"],"paddingInner":0,"paddingOuter":0.621,"align":0},"axis":null}}},
 {"transform":[{"filter":"datum.row == 'h1' || datum.row == 'h2'"}],"mark":{"type":"text","fontWeight":"bold","fontSize":18,"dy":-1},"encoding":{"x":{"datum":1,"type":"quantitative","scale":{"type":"log","domain":[0.004457,236],"nice":false},"axis":{"values":[0.005,0.1,1,10,200],"format":"~g","labelFlush":15,"labelFlushOffset":4,"title":"R1\u00a0\u00a0\u00a0\u00a0R0","tickSize":7,"tickWidth":1.5,"tickColor":"#000","domainColor":"#000","domainWidth":1.5,"labelColor":"#000","labelFontSize":18.5,"labelPadding":2,"titleColor":"#000","titleFontSize":17.5,"titleFontWeight":"normal","titlePadding":0,"grid":false,"encode":{"ticks":{"y":{"value":-7}}}}},"y":{"field":"row","type":"nominal","scale":{"type":"band","domain":["pad0","h1","h2","Iwasa.2021","Kim.2007","Lim.2013","blank","total"],"paddingInner":0,"paddingOuter":0.621,"align":0},"axis":null},"text":{"field":"ci","type":"nominal"}}}
]},
{"width":15,"height":232.9,"data":{"name":"D"},"transform":[{"filter":"datum.row == 'h2'"}],"mark":{"type":"rule","color":"#000","strokeWidth":1.6},"encoding":{"y":{"field":"row","type":"nominal","bandPosition":0.85,"scale":{"type":"band","domain":["pad0","h1","h2","Iwasa.2021","Kim.2007","Lim.2013","blank","total"],"paddingInner":0,"paddingOuter":0.621,"align":0},"axis":null}}}
], "spacing": 0, "bounds": "flush"}
]
}
